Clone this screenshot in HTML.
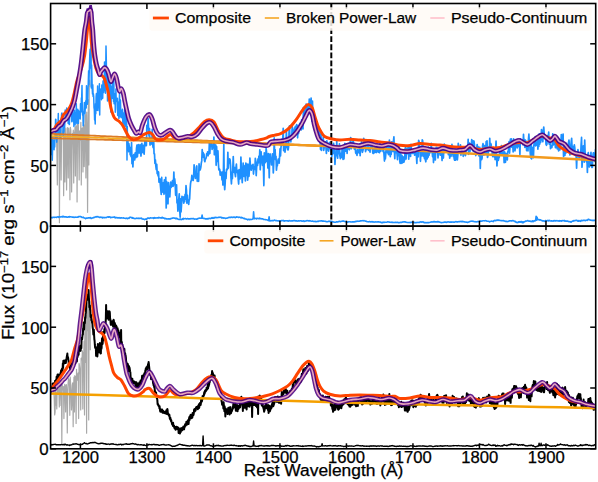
<!DOCTYPE html><html><head><meta charset="utf-8"><style>html,body{margin:0;padding:0;background:#fff;}svg{display:block;}</style></head><body><svg width="598" height="482" viewBox="0 0 598 482">
<rect width="598" height="482" fill="#fff"/>
<defs><clipPath id="c1"><rect x="50.6" y="3.5" width="545.1" height="222.7"/></clipPath>
<clipPath id="c2"><rect x="50.6" y="226.2" width="545.1" height="222.6"/></clipPath></defs>
<g clip-path="url(#c1)" fill="none" stroke-linejoin="round" stroke-linecap="butt">
<path d="M56.50,135.77 L56.92,151.73 L57.34,185.00 L57.76,130.40 L58.18,135.08 L58.60,130.60 L59.02,129.29 L59.44,222.70 L59.86,135.98 L60.28,147.71 L60.70,134.21 L61.12,180.00 L61.54,134.87 L61.96,129.90 L62.38,133.11 L62.80,133.80 L63.22,131.59 L63.64,195.70 L64.06,128.98 L64.48,128.42 L64.90,182.00 L65.32,151.13 L65.74,128.21 L66.16,148.09 L66.58,190.00 L67.00,150.54 L67.42,127.66 L67.84,147.55 L68.26,178.00 L68.68,128.03 L69.10,132.82 L69.52,139.06 L69.94,199.80 L70.36,127.42 L70.78,130.19 L71.20,142.56 L71.62,192.00 L72.04,150.35 L72.46,133.58 L72.88,136.19 L73.30,130.21 L73.72,183.00 L74.14,132.33 L74.56,142.51 L74.98,127.38 L75.40,176.00 L75.82,125.74 L76.24,139.57 L76.66,125.90 L77.08,202.00 L77.50,123.82 L77.92,126.62 L78.34,124.23 L78.76,150.12 L79.18,180.00 L79.60,130.96 L80.02,132.46 L80.44,140.07 L80.86,122.40 L81.28,185.00 L81.70,128.36 L82.12,128.89 L82.54,127.89 L82.96,172.00 L83.38,125.74 L83.80,124.77 L84.22,166.60 L84.64,143.85 L85.06,121.21 L85.48,114.62 L85.90,178.00 L86.32,131.58 L86.74,112.00 L87.16,140.15 L87.58,212.30 L88.00,133.59 L88.42,99.77 L88.84,165.00 L89.26,84.31 L89.68,80.13 L90.10,86.88" stroke="#a9a9a9" stroke-width="1.2"/>
<path d="M49.60,139.22 L49.90,143.99 L50.20,155.57 L50.50,146.61 L50.80,154.07 L51.10,154.37 L51.40,132.78 L51.70,152.61 L52.00,137.65 L52.30,160.20 L52.60,148.03 L52.90,136.96 L53.20,143.10 L53.50,142.82 L53.80,142.84 L54.10,149.81 L54.40,140.40 L54.70,146.98 L55.00,137.02 L55.30,129.63 L55.60,119.21 L55.90,119.53 L56.20,133.39 L56.50,137.15 L56.80,142.13 L57.10,126.22 L57.40,129.78 L57.70,122.52 L58.00,124.76 L58.30,113.47 L58.60,134.08 L58.90,126.71 L59.20,131.91 L59.50,135.35 L59.80,134.33 L60.10,124.24 L60.40,137.78 L60.70,131.68 L61.00,128.31 L61.30,120.29 L61.60,113.87 L61.90,112.98 L62.20,121.16 L62.50,124.40 L62.80,121.13 L63.10,136.05 L63.40,128.58 L63.70,132.39 L64.00,131.07 L64.30,118.68 L64.60,127.44 L64.90,121.82 L65.20,110.00 L65.50,118.83 L65.80,119.66 L66.10,119.07 L66.40,120.23 L66.70,107.96 L67.00,115.49 L67.30,114.68 L67.60,118.29 L67.90,118.37 L68.20,123.57 L68.50,120.91 L68.80,111.49 L69.10,120.86 L69.40,124.58 L69.70,116.58 L70.00,105.74 L70.30,110.50 L70.60,113.41 L70.90,105.57 L71.20,115.04 L71.50,109.09 L71.80,121.81 L72.10,121.47 L72.40,117.09 L72.70,110.19 L73.00,119.80 L73.30,114.73 L73.60,115.06 L73.90,126.55 L74.20,115.02 L74.50,110.16 L74.80,121.48 L75.10,124.68 L75.40,120.36 L75.70,112.38 L76.00,119.10 L76.30,103.68 L76.60,121.49 L76.90,123.69 L77.20,110.70 L77.50,118.42 L77.80,109.20 L78.10,112.20 L78.40,123.37 L78.70,110.74 L79.00,118.54 L79.30,117.68 L79.60,112.20 L79.90,114.84 L80.20,118.89 L80.50,103.75 L80.80,108.46 L81.10,111.86 L81.40,97.90 L81.70,97.54 L82.00,85.59 L82.30,109.06 L82.60,115.30 L82.90,111.64 L83.20,125.72 L83.50,121.87 L83.80,116.46 L84.10,109.53 L84.40,102.45 L84.70,110.37 L85.00,113.40 L85.30,107.26 L85.60,103.43 L85.90,100.62 L86.20,107.90 L86.50,85.68 L86.80,97.32 L87.10,100.37 L87.40,104.13 L87.70,102.00 L88.00,90.27 L88.30,82.07 L88.60,70.70 L88.90,84.73 L89.20,73.27 L89.50,64.56 L89.80,54.10 L90.10,49.31 L90.40,68.11 L90.70,62.06 L91.00,40.00 L91.30,88.06 L91.60,65.00 L91.90,75.36 L92.20,88.22 L92.50,94.01 L92.80,84.77 L93.10,96.46 L93.40,93.72 L93.70,96.51 L94.00,107.71 L94.30,109.27 L94.60,119.90 L94.90,116.33 L95.20,123.99 L95.50,103.80 L95.80,113.66 L96.10,97.15 L96.40,93.56 L96.70,94.15 L97.00,110.35 L97.30,103.80 L97.60,85.97 L97.90,110.59 L98.20,106.88 L98.50,96.04 L98.80,94.61 L99.10,95.57 L99.40,83.71 L99.70,114.94 L100.00,89.37 L100.30,92.25 L100.60,91.99 L100.90,89.97 L101.20,88.57 L101.50,99.71 L101.80,85.00 L102.10,85.31 L102.40,85.65 L102.70,98.25 L103.00,81.22 L103.30,80.75 L103.60,92.52 L103.90,80.36 L104.20,87.29 L104.50,62.00 L104.80,90.46 L105.10,84.04 L105.40,93.30 L105.70,73.21 L106.00,46.00 L106.30,59.88 L106.60,76.93 L106.90,84.61 L107.20,76.52 L107.50,100.94 L107.80,95.93 L108.10,96.90 L108.40,80.51 L108.70,93.78 L109.00,94.67 L109.30,74.87 L109.60,92.23 L109.90,91.36 L110.20,79.96 L110.50,99.06 L110.80,112.09 L111.10,100.92 L111.40,86.56 L111.70,89.54 L112.00,98.61 L112.30,80.83 L112.60,89.20 L112.90,86.37 L113.20,88.07 L113.50,101.38 L113.80,78.71 L114.10,103.79 L114.40,100.85 L114.70,102.34 L115.00,93.82 L115.30,112.20 L115.60,108.28 L115.90,89.04 L116.20,100.75 L116.50,100.78 L116.80,100.39 L117.10,101.56 L117.40,98.33 L117.70,115.57 L118.00,111.27 L118.30,102.20 L118.60,112.96 L118.90,118.37 L119.20,106.30 L119.50,93.68 L119.80,107.65 L120.10,116.87 L120.40,100.07 L120.70,108.17 L121.00,115.58 L121.30,117.74 L121.60,115.77 L121.90,113.12 L122.20,110.70 L122.50,109.35 L122.80,122.31 L123.10,123.29 L123.40,114.40 L123.70,113.13 L124.00,125.77 L124.30,124.14 L124.60,112.42 L124.90,106.89 L125.20,119.06 L125.50,124.41 L125.80,126.41 L126.10,126.77 L126.40,113.83 L126.70,125.67 L127.00,160.00 L127.30,126.42 L127.60,150.26 L127.90,138.54" stroke="#1e90ff" stroke-width="1.5"/>
<path d="M127.50,138.27 L127.95,149.96 L128.40,151.62 L128.85,143.64 L129.30,146.85 L129.75,147.29 L130.20,154.78 L130.65,151.48 L131.10,156.77 L131.55,142.52 L132.00,163.75 L132.45,155.43 L132.90,167.00 L133.35,156.57 L133.80,154.58 L134.25,158.68 L134.70,159.88 L135.15,153.08 L135.60,152.84 L136.05,157.56 L136.50,148.45 L136.95,145.03 L137.40,156.79 L137.85,151.23 L138.30,144.48 L138.75,151.20 L139.20,152.96 L139.65,147.86 L140.10,144.71 L140.55,152.26 L141.00,156.05 L141.45,147.70 L141.90,143.44 L142.35,150.35 L142.80,152.55 L143.25,145.31 L143.70,150.86 L144.15,154.21 L144.60,144.67 L145.05,139.21 L145.50,145.70 L145.95,142.40 L146.40,145.54 L146.85,125.40 L147.30,127.88 L147.75,125.55 L148.20,118.77 L148.65,132.46 L149.10,136.23 L149.55,128.66 L150.00,145.10 L150.45,141.51 L150.90,139.93 L151.35,139.01 L151.80,144.13 L152.25,129.32 L152.70,144.95 L153.15,147.62 L153.60,136.30 L154.05,153.84 L154.50,153.79 L154.95,163.43 L155.40,159.94 L155.85,166.16 L156.30,169.58 L156.75,164.32 L157.20,173.73 L157.65,171.36 L158.10,176.02 L158.55,171.97 L159.00,182.23 L159.45,181.25 L159.90,178.80 L160.35,184.94 L160.80,189.99 L161.25,194.42 L161.70,177.46 L162.15,192.12 L162.60,190.91 L163.05,188.27 L163.50,182.58 L163.95,194.29 L164.40,179.81 L164.85,189.26 L165.30,193.01 L165.75,177.34 L166.20,208.00 L166.65,181.55 L167.10,191.87 L167.55,200.34 L168.00,203.85 L168.45,182.60 L168.90,188.16 L169.35,193.66 L169.80,196.85 L170.25,189.23 L170.70,182.04 L171.15,187.36 L171.60,185.26 L172.05,183.88 L172.50,180.57 L172.95,186.45 L173.40,185.58 L173.85,172.00 L174.30,184.07 L174.75,178.95 L175.20,184.43 L175.65,195.31 L176.10,189.39 L176.55,184.75 L177.00,202.95 L177.45,200.47 L177.90,211.11 L178.35,200.94 L178.80,198.86 L179.25,193.81 L179.70,209.79 L180.15,217.24 L180.60,198.73 L181.05,212.00 L181.50,205.25 L181.95,196.43 L182.40,198.66 L182.85,197.09 L183.30,199.03 L183.75,203.26 L184.20,196.65 L184.65,201.61 L185.10,194.31 L185.55,199.16 L186.00,185.71 L186.45,190.11 L186.90,203.15 L187.35,195.16 L187.80,201.56 L188.25,200.83 L188.70,204.42 L189.15,200.09 L189.60,199.23 L190.05,190.14 L190.50,183.94 L190.95,181.22 L191.40,180.48 L191.85,175.29 L192.30,177.72 L192.75,179.52 L193.20,180.46 L193.65,175.64 L194.10,164.79 L194.55,173.71 L195.00,174.27 L195.45,178.46 L195.90,174.79 L196.35,167.01 L196.80,165.92 L197.25,181.31 L197.70,173.67 L198.15,179.89 L198.60,181.28 L199.05,163.81 L199.50,170.46 L199.95,170.06 L200.40,169.21 L200.85,167.15 L201.30,163.00 L201.75,160.89 L202.20,149.63 L202.65,156.52 L203.10,152.62 L203.55,157.50 L204.00,153.99 L204.45,160.40 L204.90,161.67 L205.35,158.71 L205.80,158.83 L206.25,157.32 L206.70,153.68 L207.15,154.62 L207.60,151.76 L208.05,155.78 L208.50,152.22 L208.95,154.09 L209.40,141.58 L209.85,153.35 L210.30,142.79 L210.75,142.43 L211.20,145.49 L211.65,143.71 L212.10,149.48 L212.55,145.95 L213.00,145.00 L213.45,147.96 L213.90,137.00 L214.35,154.79 L214.80,147.74 L215.25,154.41 L215.70,144.90 L216.15,165.31 L216.60,146.64 L217.05,159.67 L217.50,161.38 L217.95,150.97 L218.40,163.44 L218.85,169.85 L219.30,168.92 L219.75,169.45 L220.20,175.19 L220.65,171.71 L221.10,174.28 L221.55,173.15 L222.00,179.92 L222.45,172.14 L222.90,185.04 L223.35,177.11 L223.80,144.00 L224.25,182.04 L224.70,189.66 L225.15,183.65 L225.60,172.46 L226.05,178.55 L226.50,169.23 L226.95,169.68 L227.40,169.56 L227.85,152.37 L228.30,168.21 L228.75,160.09 L229.20,162.93 L229.65,158.84 L230.10,159.91 L230.55,165.07 L231.00,177.89 L231.45,183.84 L231.90,172.07 L232.35,178.76 L232.80,168.56 L233.25,156.56 L233.70,170.12 L234.15,172.44 L234.60,167.48 L235.05,173.68 L235.50,176.72 L235.95,167.89 L236.40,164.12 L236.85,172.50 L237.30,172.16 L237.75,170.67 L238.20,179.27 L238.65,184.04 L239.10,169.51 L239.55,177.11 L240.00,178.85 L240.45,177.28 L240.90,157.00 L241.35,168.70 L241.80,175.18 L242.25,182.59 L242.70,173.31 L243.15,163.15 L243.60,171.44 L244.05,176.33 L244.50,171.05 L244.95,165.70 L245.40,180.93 L245.85,163.00 L246.30,175.46 L246.75,172.17 L247.20,164.12 L247.65,180.24 L248.10,174.36 L248.55,164.29 L249.00,176.31 L249.45,168.99 L249.90,158.08 L250.35,164.65 L250.80,169.24 L251.25,170.18 L251.70,166.08 L252.15,165.07 L252.60,168.29 L253.05,164.24 L253.50,174.03 L253.95,167.20 L254.40,168.02 L254.85,169.43 L255.30,158.45 L255.75,160.67 L256.20,175.58 L256.65,167.10 L257.10,162.19 L257.55,165.41 L258.00,158.80 L258.45,163.01 L258.90,156.00 L259.35,162.11 L259.80,149.73 L260.25,169.80 L260.70,158.11 L261.15,151.89 L261.60,161.93 L262.05,161.64 L262.50,165.28 L262.95,156.19 L263.40,165.43 L263.85,185.63 L264.30,152.77 L264.75,163.18 L265.20,158.97 L265.65,162.07 L266.10,148.46 L266.55,151.78 L267.00,161.18 L267.45,157.37 L267.90,168.06 L268.35,153.59 L268.80,159.89 L269.25,177.80 L269.70,154.80 L270.15,154.01 L270.60,159.51 L271.05,159.41 L271.50,164.83 L271.95,160.05 L272.40,153.96 L272.85,159.07 L273.30,172.96 L273.75,163.52 L274.20,137.95 L274.65,153.77 L275.10,149.62 L275.55,159.64 L276.00,156.27 L276.45,170.22 L276.90,165.30 L277.35,165.64 L277.80,161.29 L278.25,158.99 L278.70,159.63 L279.15,163.18 L279.60,156.39 L280.05,148.82 L280.50,156.01 L280.95,147.67 L281.40,144.54 L281.85,139.44 L282.30,140.35 L282.75,140.07 L283.20,128.25 L283.65,150.63 L284.10,148.75 L284.55,144.86 L285.00,152.18 L285.45,148.39 L285.90,147.30 L286.35,130.48 L286.80,141.85 L287.25,144.92 L287.70,149.68 L288.15,149.82 L288.60,146.59 L289.05,131.80 L289.50,125.80 L289.95,140.55 L290.40,137.41 L290.85,142.02 L291.30,135.51 L291.75,136.45 L292.20,126.31 L292.65,135.57 L293.10,129.79 L293.55,132.83 L294.00,132.17 L294.45,127.89 L294.90,128.96 L295.35,126.44 L295.80,130.18 L296.25,129.23 L296.70,124.69 L297.15,125.39 L297.60,137.82 L298.05,128.60 L298.50,133.69 L298.95,130.00 L299.40,124.61 L299.85,123.44 L300.30,127.68 L300.75,128.36 L301.20,129.93 L301.65,119.95 L302.10,121.93 L302.55,122.59 L303.00,128.90 L303.45,107.51 L303.90,119.37 L304.35,112.85 L304.80,116.06 L305.25,110.41 L305.70,113.70 L306.15,104.00 L306.60,112.64 L307.05,112.70 L307.50,112.07 L307.95,106.27 L308.40,112.11 L308.85,108.06 L309.30,99.00 L309.75,108.22 L310.20,108.78 L310.65,114.87 L311.10,98.00 L311.55,110.99 L312.00,121.22 L312.45,101.00 L312.90,121.43 L313.35,119.62 L313.80,118.09 L314.25,118.87 L314.70,121.98 L315.15,130.22 L315.60,128.59 L316.05,123.15 L316.50,131.16 L316.95,125.76 L317.40,134.08 L317.85,128.39 L318.30,128.73 L318.75,135.83 L319.20,135.70 L319.65,129.35 L320.10,141.63 L320.55,149.52 L321.00,134.02 L321.45,150.51 L321.90,139.71 L322.35,140.98 L322.80,142.62 L323.25,137.11 L323.70,150.43 L324.15,147.84 L324.60,143.57 L325.05,146.67 L325.50,141.81 L325.95,147.62 L326.40,153.46 L326.85,140.83 L327.30,145.64 L327.75,147.09 L328.20,150.18 L328.65,151.05 L329.10,143.02 L329.55,142.38 L330.00,148.59 L330.45,145.73 L330.90,146.58 L331.35,153.31 L331.80,156.50 L332.25,150.65 L332.70,149.30 L333.15,153.55 L333.60,143.32 L334.05,152.52 L334.50,148.51 L334.95,164.43 L335.40,157.06 L335.85,154.34 L336.30,152.40 L336.75,141.26 L337.20,154.93 L337.65,158.24 L338.10,147.04 L338.55,153.18 L339.00,153.57 L339.45,143.94 L339.90,155.94 L340.35,158.56 L340.80,154.10 L341.25,153.24 L341.70,157.39 L342.15,147.20 L342.60,154.87 L343.05,159.47 L343.50,149.22 L343.95,158.99 L344.40,151.91 L344.85,143.36 L345.30,151.07 L345.75,146.13 L346.20,151.16 L346.65,143.90 L347.10,153.41 L347.55,144.78 L348.00,148.93 L348.45,143.72 L348.90,143.93 L349.35,149.80 L349.80,144.64 L350.25,141.50 L350.70,137.64 L351.15,148.78 L351.60,147.37 L352.05,143.22 L352.50,146.41 L352.95,141.24 L353.40,141.81 L353.85,143.17 L354.30,149.05 L354.75,149.43 L355.20,145.42 L355.65,152.75 L356.10,153.55 L356.55,151.28 L357.00,155.48 L357.45,149.59 L357.90,150.21 L358.35,152.50 L358.80,149.81 L359.25,153.18 L359.70,143.76 L360.15,155.66 L360.60,145.46 L361.05,147.86 L361.50,141.85 L361.95,150.03 L362.40,152.27 L362.85,150.66 L363.30,149.13 L363.75,138.23 L364.20,141.89 L364.65,143.73 L365.10,142.08 L365.55,151.76 L366.00,147.86 L366.45,147.18 L366.90,149.75 L367.35,143.56 L367.80,144.00 L368.25,144.31 L368.70,150.51 L369.15,149.54 L369.60,150.20 L370.05,152.12 L370.50,141.03 L370.95,144.74 L371.40,148.24 L371.85,141.86 L372.30,145.83 L372.75,152.97 L373.20,153.45 L373.65,153.34 L374.10,148.57 L374.55,147.11 L375.00,152.43 L375.45,145.32 L375.90,148.12 L376.35,152.53 L376.80,145.35 L377.25,145.03 L377.70,148.59 L378.15,152.04 L378.60,152.00 L379.05,150.79 L379.50,152.71 L379.95,143.04 L380.40,146.39 L380.85,151.09 L381.30,146.42 L381.75,144.99 L382.20,146.11 L382.65,147.90 L383.10,151.72 L383.55,148.35 L384.00,154.32 L384.45,161.06 L384.90,152.71 L385.35,158.85 L385.80,153.93 L386.25,146.92 L386.70,149.97 L387.15,145.81 L387.60,152.85 L388.05,143.60 L388.50,154.62 L388.95,151.43 L389.40,140.05 L389.85,153.03 L390.30,156.77 L390.75,146.36 L391.20,154.37 L391.65,141.76 L392.10,150.84 L392.55,142.10 L393.00,151.54 L393.45,141.04 L393.90,136.90 L394.35,150.28 L394.80,158.68 L395.25,145.82 L395.70,152.63 L396.15,150.08 L396.60,149.02 L397.05,154.16 L397.50,159.56 L397.95,147.14 L398.40,155.57 L398.85,154.76 L399.30,147.02 L399.75,161.16 L400.20,163.27 L400.65,150.80 L401.10,163.50 L401.55,156.34 L402.00,155.51 L402.45,162.91 L402.90,156.92 L403.35,157.08 L403.80,162.24 L404.25,161.05 L404.70,159.10 L405.15,148.50 L405.60,147.34 L406.05,159.05 L406.50,149.44 L406.95,154.00 L407.40,148.28 L407.85,152.03 L408.30,146.68 L408.75,159.27 L409.20,146.93 L409.65,150.70 L410.10,150.24 L410.55,156.40 L411.00,144.46 L411.45,150.63 L411.90,149.87 L412.35,153.35 L412.80,153.34 L413.25,149.47 L413.70,153.07 L414.15,150.85 L414.60,155.27 L415.05,153.31 L415.50,151.25 L415.95,154.17 L416.40,155.58 L416.85,163.39 L417.30,149.97 L417.75,152.49 L418.20,156.81 L418.65,140.34 L419.10,141.72 L419.55,144.40 L420.00,149.55 L420.45,161.33 L420.90,152.29 L421.35,156.06 L421.80,149.70 L422.25,139.81 L422.70,140.85 L423.15,156.34 L423.60,153.18 L424.05,147.12 L424.50,158.64 L424.95,147.27 L425.40,159.86 L425.85,161.78 L426.30,152.14 L426.75,150.61 L427.20,159.00 L427.65,149.50 L428.10,157.33 L428.55,147.10 L429.00,155.35 L429.45,151.70 L429.90,149.22 L430.35,147.24 L430.80,152.58 L431.25,143.36 L431.70,151.12 L432.15,151.22 L432.60,156.80 L433.05,148.79 L433.50,162.53 L433.95,153.34 L434.40,149.06 L434.85,159.57 L435.30,159.92 L435.75,150.90 L436.20,147.27 L436.65,151.09 L437.10,147.81 L437.55,149.50 L438.00,157.96 L438.45,152.73 L438.90,151.72 L439.35,152.77 L439.80,151.06 L440.25,155.11 L440.70,155.10 L441.15,149.12 L441.60,150.74 L442.05,160.56 L442.50,151.19 L442.95,148.15 L443.40,158.05 L443.85,148.83 L444.30,144.02 L444.75,152.31 L445.20,145.59 L445.65,147.76 L446.10,151.72 L446.55,149.78 L447.00,146.85 L447.45,147.61 L447.90,147.12 L448.35,154.69 L448.80,145.86 L449.25,146.33 L449.70,158.15 L450.15,146.83 L450.60,156.49 L451.05,156.19 L451.50,149.93 L451.95,144.46 L452.40,153.13 L452.85,154.54 L453.30,156.50 L453.75,153.21 L454.20,158.97 L454.65,160.22 L455.10,149.27 L455.55,160.15 L456.00,153.95 L456.45,149.91 L456.90,150.40 L457.35,159.91 L457.80,155.78 L458.25,143.38 L458.70,151.96 L459.15,151.06 L459.60,150.90 L460.05,149.29 L460.50,144.93 L460.95,155.31 L461.40,147.28 L461.85,150.10 L462.30,149.46 L462.75,149.34 L463.20,156.28 L463.65,154.79 L464.10,149.91 L464.55,148.29 L465.00,149.89 L465.45,155.72 L465.90,151.26 L466.35,150.99 L466.80,147.80 L467.25,147.58 L467.70,149.23 L468.15,139.42 L468.60,154.34 L469.05,142.89 L469.50,143.34 L469.95,151.61 L470.40,147.12 L470.85,146.85 L471.30,144.23 L471.75,139.52 L472.20,146.75 L472.65,150.61 L473.10,140.75 L473.55,151.41 L474.00,141.20 L474.45,144.56 L474.90,151.96 L475.35,151.21 L475.80,155.55 L476.25,149.62 L476.70,148.46 L477.15,144.53 L477.60,147.46 L478.05,148.16 L478.50,147.04 L478.95,155.99 L479.40,152.57 L479.85,147.34 L480.30,168.36 L480.75,152.40 L481.20,149.37 L481.65,159.65 L482.10,157.92 L482.55,145.91 L483.00,143.60 L483.45,145.35 L483.90,155.11 L484.35,148.14 L484.80,145.57 L485.25,148.94 L485.70,154.39 L486.15,141.64 L486.60,145.96 L487.05,140.79 L487.50,157.44 L487.95,155.67 L488.40,151.66 L488.85,146.77 L489.30,150.99 L489.75,138.25 L490.20,150.34 L490.65,143.45 L491.10,144.37 L491.55,148.18 L492.00,150.60 L492.45,155.62 L492.90,156.59 L493.35,154.69 L493.80,148.96 L494.25,156.90 L494.70,153.13 L495.15,159.70 L495.60,149.80 L496.05,141.17 L496.50,152.70 L496.95,165.97 L497.40,158.08 L497.85,155.03 L498.30,160.29 L498.75,158.09 L499.20,157.31 L499.65,151.76 L500.10,153.84 L500.55,153.56 L501.00,148.56 L501.45,145.50 L501.90,151.17 L502.35,154.81 L502.80,152.85 L503.25,151.87 L503.70,151.98 L504.15,162.73 L504.60,151.96 L505.05,156.83 L505.50,162.29 L505.95,153.35 L506.40,154.37 L506.85,157.66 L507.30,159.85 L507.75,151.78 L508.20,150.87 L508.65,148.63 L509.10,141.66 L509.55,153.09 L510.00,146.26 L510.45,138.98 L510.90,146.84 L511.35,138.84 L511.80,142.33 L512.25,147.31 L512.70,142.39 L513.15,152.02 L513.60,138.73 L514.05,146.65 L514.50,147.28 L514.95,150.95 L515.40,147.51 L515.85,143.47 L516.30,142.40 L516.75,141.68 L517.20,148.01 L517.65,139.67 L518.10,146.56 L518.55,144.38 L519.00,146.51 L519.45,143.61 L519.90,154.51 L520.35,138.93 L520.80,141.94 L521.25,140.71 L521.70,141.55 L522.15,140.55 L522.60,140.95 L523.05,145.03 L523.50,134.28 L523.95,143.94 L524.40,139.26 L524.85,147.47 L525.30,140.17 L525.75,140.56 L526.20,144.15 L526.65,150.71 L527.10,146.18 L527.55,144.82 L528.00,150.88 L528.45,139.38 L528.90,134.22 L529.35,143.49 L529.80,144.96 L530.25,153.15 L530.70,157.89 L531.15,139.99 L531.60,158.92 L532.05,153.78 L532.50,149.76 L532.95,147.24 L533.40,157.71 L533.85,145.60 L534.30,142.44 L534.75,145.09 L535.20,136.90 L535.65,145.98 L536.10,142.84 L536.55,145.03 L537.00,145.06 L537.45,137.49 L537.90,149.21 L538.35,136.88 L538.80,146.46 L539.25,133.84 L539.70,144.17 L540.15,138.21 L540.60,142.46 L541.05,138.29 L541.50,129.50 L541.95,133.91 L542.40,139.35 L542.85,141.72 L543.30,130.59 L543.75,127.04 L544.20,133.57 L544.65,137.29 L545.10,135.59 L545.55,135.20 L546.00,144.26 L546.45,145.25 L546.90,144.31 L547.35,135.58 L547.80,140.51 L548.25,138.70 L548.70,132.03 L549.15,144.09 L549.60,140.55 L550.05,138.41 L550.50,148.61 L550.95,145.43 L551.40,145.91 L551.85,147.52 L552.30,144.65 L552.75,133.91 L553.20,138.03 L553.65,144.82 L554.10,135.28 L554.55,139.58 L555.00,141.72 L555.45,147.67 L555.90,147.68 L556.35,146.84 L556.80,142.35 L557.25,148.83 L557.70,147.07 L558.15,143.32 L558.60,150.88 L559.05,146.07 L559.50,139.37 L559.95,149.88 L560.40,141.72 L560.85,145.93 L561.30,134.64 L561.75,142.40 L562.20,137.66 L562.65,138.00 L563.10,134.02 L563.55,156.57 L564.00,146.01 L564.45,149.60 L564.90,155.34 L565.35,149.59 L565.80,153.17 L566.25,143.25 L566.70,151.17 L567.15,147.66 L567.60,152.26 L568.05,150.50 L568.50,142.30 L568.95,140.09 L569.40,144.95 L569.85,154.84 L570.30,153.89 L570.75,154.40 L571.20,141.97 L571.65,138.28 L572.10,148.49 L572.55,148.98 L573.00,146.59 L573.45,151.28 L573.90,148.97 L574.35,144.78 L574.80,147.99 L575.25,154.98 L575.70,155.81 L576.15,155.69 L576.60,168.20 L577.05,154.48 L577.50,156.01 L577.95,149.60 L578.40,152.66 L578.85,157.27 L579.30,157.60 L579.75,153.92 L580.20,157.00 L580.65,155.24 L581.10,144.90 L581.55,137.44 L582.00,167.22 L582.45,159.48 L582.90,154.88 L583.35,145.94 L583.80,148.30 L584.25,162.19 L584.70,140.04 L585.15,153.46 L585.60,160.47 L586.05,157.58 L586.50,161.98 L586.95,158.28 L587.40,172.51 L587.85,154.50 L588.30,152.63 L588.75,161.14 L589.20,167.04 L589.65,158.83 L590.10,164.57 L590.55,155.97 L591.00,152.42 L591.45,166.36 L591.90,167.39 L592.35,167.35 L592.80,156.86 L593.25,153.01 L593.70,152.80 L594.15,157.55 L594.60,161.41 L595.05,160.46 L595.50,149.57 L595.95,158.23 L596.40,157.50" stroke="#1e90ff" stroke-width="1.7"/>
<path d="M49.60,217.78 L50.10,216.82 L50.60,217.63 L51.10,217.44 L51.60,217.67 L52.10,217.45 L52.60,217.70 L53.10,217.31 L53.60,217.18 L54.10,217.38 L54.60,217.35 L55.10,217.18 L55.60,217.19 L56.10,217.37 L56.60,217.33 L57.10,217.05 L57.60,217.02 L58.10,216.67 L58.60,217.30 L59.10,216.84 L59.60,217.07 L60.10,216.81 L60.60,217.04 L61.10,216.90 L61.60,216.61 L62.10,216.83 L62.60,216.34 L63.10,216.81 L63.60,216.31 L64.10,216.74 L64.60,216.96 L65.10,216.88 L65.60,216.85 L66.10,216.84 L66.60,217.00 L67.10,217.32 L67.60,217.29 L68.10,217.03 L68.60,216.78 L69.10,217.09 L69.60,216.59 L70.10,216.73 L70.60,216.68 L71.10,217.01 L71.60,216.96 L72.10,217.08 L72.60,217.11 L73.10,216.98 L73.60,217.26 L74.10,217.45 L74.60,217.17 L75.10,217.29 L75.60,217.12 L76.10,217.32 L76.60,217.19 L77.10,217.15 L77.60,216.95 L78.10,217.10 L78.60,216.59 L79.10,216.52 L79.60,216.44 L80.10,216.70 L80.60,216.54 L81.10,216.68 L81.60,217.14 L82.10,217.45 L82.60,217.57 L83.10,217.15 L83.60,217.70 L84.10,217.85 L84.60,217.94 L85.10,218.17 L85.60,218.63 L86.10,218.18 L86.60,218.03 L87.10,218.23 L87.60,218.02 L88.10,217.96 L88.60,217.75 L89.10,217.89 L89.60,218.02 L90.10,217.64 L90.60,217.79 L91.10,218.41 L91.60,218.40 L92.10,218.10 L92.60,217.89 L93.10,217.87 L93.60,217.43 L94.10,217.34 L94.60,217.48 L95.10,216.96 L95.60,217.01 L96.10,216.64 L96.60,216.73 L97.10,216.96 L97.60,216.49 L98.10,216.79 L98.60,216.94 L99.10,217.14 L99.60,217.50 L100.10,217.41 L100.60,217.05 L101.10,217.35 L101.60,217.27 L102.10,217.30 L102.60,217.92 L103.10,217.33 L103.60,217.61 L104.10,217.44 L104.60,217.76 L105.10,217.63 L105.60,217.54 L106.10,217.43 L106.60,217.57 L107.10,217.05 L107.60,217.00 L108.10,216.84 L108.60,217.29 L109.10,216.97 L109.60,216.86 L110.10,217.04 L110.60,217.69 L111.10,217.23 L111.60,217.46 L112.10,217.40 L112.60,217.30 L113.10,217.16 L113.60,217.23 L114.10,217.24 L114.60,216.91 L115.10,217.92 L115.60,217.66 L116.10,217.58 L116.60,217.59 L117.10,217.55 L117.60,217.95 L118.10,217.77 L118.60,217.94 L119.10,217.57 L119.60,217.92 L120.10,218.21 L120.60,217.73 L121.10,217.92 L121.60,217.76 L122.10,217.99 L122.60,218.03 L123.10,217.92 L123.60,217.90 L124.10,218.19 L124.60,218.25 L125.10,218.20 L125.60,218.46 L126.10,218.46 L126.60,218.16 L127.10,218.24 L127.60,218.75 L128.10,218.21 L128.60,217.94 L129.10,218.31 L129.60,217.63 L130.10,217.17 L130.60,217.28 L131.10,217.40 L131.60,217.84 L132.10,218.11 L132.60,217.62 L133.10,218.42 L133.60,218.08 L134.10,218.48 L134.60,218.58 L135.10,218.60 L135.60,218.50 L136.10,218.48 L136.60,218.14 L137.10,218.32 L137.60,218.36 L138.10,218.27 L138.60,218.55 L139.10,218.24 L139.60,218.22 L140.10,218.50 L140.60,218.35 L141.10,218.20 L141.60,218.17 L142.10,219.03 L142.60,219.04 L143.10,219.22 L143.60,219.10 L144.10,219.31 L144.60,219.65 L145.10,219.33 L145.60,218.98 L146.10,219.01 L146.60,219.23 L147.10,218.58 L147.60,218.12 L148.10,218.02 L148.60,218.09 L149.10,218.42 L149.60,218.21 L150.10,218.00 L150.60,217.85 L151.10,218.06 L151.60,218.03 L152.10,217.94 L152.60,217.99 L153.10,217.89 L153.60,218.40 L154.10,217.56 L154.60,218.06 L155.10,217.81 L155.60,218.13 L156.10,217.91 L156.60,218.00 L157.10,217.99 L157.60,217.87 L158.10,217.98 L158.60,217.46 L159.10,217.89 L159.60,217.62 L160.10,217.71 L160.60,217.93 L161.10,217.85 L161.60,218.06 L162.10,217.28 L162.60,217.63 L163.10,218.14 L163.60,217.85 L164.10,218.18 L164.60,218.68 L165.10,218.63 L165.60,218.37 L166.10,218.75 L166.60,218.89 L167.10,218.87 L167.60,218.94 L168.10,219.07 L168.60,218.80 L169.10,219.14 L169.60,218.87 L170.10,219.04 L170.60,218.88 L171.10,218.42 L171.60,218.51 L172.10,218.27 L172.60,218.05 L173.10,218.13 L173.60,217.92 L174.10,217.98 L174.60,218.15 L175.10,218.26 L175.60,218.64 L176.10,218.09 L176.60,218.65 L177.10,218.45 L177.60,218.89 L178.10,219.19 L178.60,219.26 L179.10,219.56 L179.60,219.50 L180.10,218.91 L180.60,219.20 L181.10,219.66 L181.60,219.55 L182.10,219.14 L182.60,218.69 L183.10,219.33 L183.60,218.40 L184.10,218.82 L184.60,218.72 L185.10,218.77 L185.60,218.48 L186.10,218.65 L186.60,218.98 L187.10,218.69 L187.60,218.55 L188.10,218.85 L188.60,218.89 L189.10,218.85 L189.60,218.70 L190.10,218.95 L190.60,218.78 L191.10,218.53 L191.60,218.78 L192.10,218.71 L192.60,218.75 L193.10,218.41 L193.60,218.65 L194.10,218.96 L194.60,219.11 L195.10,219.04 L195.60,219.01 L196.10,219.09 L196.60,219.08 L197.10,219.14 L197.60,218.76 L198.10,218.43 L198.60,218.54 L199.10,217.96 L199.60,218.30 L200.10,218.16 L200.60,218.22 L201.10,218.31 L201.60,218.23 L202.10,215.00 L202.60,218.21 L203.10,218.17 L203.60,218.40 L204.10,218.56 L204.60,218.39 L205.10,218.83 L205.60,219.04 L206.10,218.81 L206.60,219.06 L207.10,218.63 L207.60,218.80 L208.10,219.04 L208.60,218.41 L209.10,218.55 L209.60,218.35 L210.10,218.64 L210.60,218.53 L211.10,218.09 L211.60,218.16 L212.10,217.55 L212.60,218.19 L213.10,218.04 L213.60,218.18 L214.10,217.39 L214.60,217.89 L215.10,217.70 L215.60,217.21 L216.10,217.55 L216.60,217.63 L217.10,217.76 L217.60,217.59 L218.10,217.39 L218.60,217.53 L219.10,217.37 L219.60,217.23 L220.10,217.14 L220.60,217.38 L221.10,217.42 L221.60,217.82 L222.10,217.46 L222.60,217.99 L223.10,217.88 L223.60,218.19 L224.10,217.91 L224.60,218.03 L225.10,218.21 L225.60,218.47 L226.10,218.29 L226.60,218.31 L227.10,218.08 L227.60,218.06 L228.10,217.72 L228.60,217.42 L229.10,217.50 L229.60,217.31 L230.10,217.59 L230.60,217.18 L231.10,217.23 L231.60,217.15 L232.10,217.46 L232.60,217.42 L233.10,217.39 L233.60,217.03 L234.10,216.99 L234.60,217.36 L235.10,217.46 L235.60,217.62 L236.10,216.95 L236.60,217.27 L237.10,216.95 L237.60,217.08 L238.10,217.23 L238.60,217.47 L239.10,217.18 L239.60,217.17 L240.10,217.28 L240.60,217.68 L241.10,217.99 L241.60,217.30 L242.10,217.67 L242.60,217.77 L243.10,218.25 L243.60,218.29 L244.10,218.71 L244.60,218.43 L245.10,218.85 L245.60,218.96 L246.10,219.00 L246.60,219.31 L247.10,219.19 L247.60,219.88 L248.10,219.56 L248.60,219.28 L249.10,219.35 L249.60,219.79 L250.10,219.35 L250.60,219.54 L251.10,219.46 L251.60,219.49 L252.10,219.30 L252.60,219.04 L253.10,218.84 L253.60,211.80 L254.10,218.71 L254.60,218.65 L255.10,218.49 L255.60,218.49 L256.10,218.29 L256.60,218.92 L257.10,218.47 L257.60,218.40 L258.10,218.51 L258.60,218.60 L259.10,218.76 L259.60,218.17 L260.10,218.70 L260.60,218.51 L261.10,218.62 L261.60,218.90 L262.10,218.94 L262.60,218.79 L263.10,219.01 L263.60,219.48 L264.10,219.50 L264.60,219.53 L265.10,219.50 L265.60,219.78 L266.10,219.81 L266.60,219.78 L267.10,219.84 L267.60,220.25 L268.10,220.36 L268.60,220.64 L269.10,216.80 L269.60,220.87 L270.10,220.63 L270.60,220.95 L271.10,220.84 L271.60,220.64 L272.10,220.54 L272.60,220.62 L273.10,220.52 L273.60,220.64 L274.10,220.30 L274.60,220.12 L275.10,220.35 L275.60,220.69 L276.10,220.72 L276.60,220.45 L277.10,220.63 L277.60,220.85 L278.10,220.79 L278.60,220.92 L279.10,220.95 L279.60,220.83 L280.10,220.86 L280.60,220.82 L281.10,220.86 L281.60,220.56 L282.10,220.71 L282.60,220.49 L283.10,220.48 L283.60,220.42 L284.10,221.23 L284.60,220.82 L285.10,220.87 L285.60,220.82 L286.10,220.70 L286.60,220.78 L287.10,220.84 L287.60,220.89 L288.10,220.95 L288.60,221.12 L289.10,220.48 L289.60,220.87 L290.10,221.07 L290.60,220.90 L291.10,220.89 L291.60,221.07 L292.10,220.80 L292.60,220.97 L293.10,220.66 L293.60,220.68 L294.10,220.52 L294.60,220.44 L295.10,220.74 L295.60,220.89 L296.10,220.90 L296.60,220.80 L297.10,221.10 L297.60,221.00 L298.10,220.95 L298.60,220.78 L299.10,221.06 L299.60,220.99 L300.10,220.80 L300.60,220.74 L301.10,220.82 L301.60,221.08 L302.10,221.31 L302.60,221.00 L303.10,221.01 L303.60,220.86 L304.10,221.52 L304.60,220.94 L305.10,221.16 L305.60,221.03 L306.10,221.06 L306.60,220.68 L307.10,220.52 L307.60,220.76 L308.10,220.82 L308.60,220.98 L309.10,220.65 L309.60,220.90 L310.10,220.99 L310.60,220.89 L311.10,221.09 L311.60,221.26 L312.10,221.18 L312.60,221.02 L313.10,221.32 L313.60,221.45 L314.10,221.47 L314.60,221.56 L315.10,221.28 L315.60,221.62 L316.10,221.66 L316.60,221.51 L317.10,221.52 L317.60,221.35 L318.10,221.54 L318.60,221.22 L319.10,221.01 L319.60,221.06 L320.10,220.96 L320.60,220.97 L321.10,220.72 L321.60,220.75 L322.10,220.94 L322.60,221.27 L323.10,221.12 L323.60,220.97 L324.10,221.30 L324.60,221.27 L325.10,221.20 L325.60,221.42 L326.10,221.46 L326.60,221.61 L327.10,221.72 L327.60,221.66 L328.10,221.57 L328.60,221.36 L329.10,221.40 L329.60,221.33 L330.10,221.52 L330.60,221.23 L331.10,221.29 L331.60,221.65 L332.10,221.64 L332.60,221.64 L333.10,221.87 L333.60,222.02 L334.10,222.14 L334.60,222.31 L335.10,222.28 L335.60,222.19 L336.10,222.08 L336.60,221.83 L337.10,221.91 L337.60,222.03 L338.10,221.80 L338.60,221.58 L339.10,221.55 L339.60,221.38 L340.10,221.46 L340.60,221.61 L341.10,221.50 L341.60,221.34 L342.10,221.23 L342.60,221.06 L343.10,220.92 L343.60,221.15 L344.10,221.18 L344.60,221.50 L345.10,221.56 L345.60,221.62 L346.10,221.89 L346.60,222.33 L347.10,221.83 L347.60,222.11 L348.10,221.99 L348.60,221.84 L349.10,221.70 L349.60,221.79 L350.10,221.82 L350.60,221.92 L351.10,221.95 L351.60,221.93 L352.10,221.82 L352.60,221.96 L353.10,221.85 L353.60,221.74 L354.10,221.97 L354.60,221.69 L355.10,221.54 L355.60,221.64 L356.10,221.26 L356.60,221.41 L357.10,221.37 L357.60,221.15 L358.10,221.15 L358.60,221.35 L359.10,221.20 L359.60,221.10 L360.10,221.03 L360.60,220.85 L361.10,220.86 L361.60,220.78 L362.10,220.77 L362.60,220.73 L363.10,220.56 L363.60,220.91 L364.10,220.58 L364.60,220.86 L365.10,221.08 L365.60,221.08 L366.10,221.15 L366.60,221.41 L367.10,221.81 L367.60,221.73 L368.10,221.69 L368.60,221.86 L369.10,221.77 L369.60,221.53 L370.10,221.82 L370.60,221.92 L371.10,221.94 L371.60,221.79 L372.10,221.63 L372.60,222.03 L373.10,221.88 L373.60,222.04 L374.10,222.13 L374.60,222.03 L375.10,221.99 L375.60,221.91 L376.10,221.93 L376.60,221.99 L377.10,221.91 L377.60,222.02 L378.10,221.71 L378.60,221.87 L379.10,222.06 L379.60,222.04 L380.10,222.16 L380.60,222.17 L381.10,222.51 L381.60,222.71 L382.10,222.38 L382.60,222.69 L383.10,222.30 L383.60,222.47 L384.10,222.10 L384.60,222.38 L385.10,222.24 L385.60,222.19 L386.10,222.28 L386.60,222.15 L387.10,222.03 L387.60,221.89 L388.10,222.01 L388.60,221.91 L389.10,221.98 L389.60,222.29 L390.10,222.27 L390.60,222.26 L391.10,222.38 L391.60,222.16 L392.10,222.43 L392.60,222.22 L393.10,222.38 L393.60,222.52 L394.10,222.50 L394.60,222.51 L395.10,222.40 L395.60,222.36 L396.10,222.34 L396.60,222.54 L397.10,222.54 L397.60,222.19 L398.10,222.46 L398.60,222.67 L399.10,222.50 L399.60,222.59 L400.10,222.48 L400.60,222.38 L401.10,222.51 L401.60,222.35 L402.10,222.28 L402.60,221.98 L403.10,221.91 L403.60,221.96 L404.10,221.85 L404.60,221.98 L405.10,221.79 L405.60,222.11 L406.10,222.20 L406.60,222.25 L407.10,222.45 L407.60,222.45 L408.10,222.52 L408.60,222.58 L409.10,222.42 L409.60,222.58 L410.10,222.66 L410.60,222.27 L411.10,222.54 L411.60,222.31 L412.10,222.32 L412.60,222.38 L413.10,222.41 L413.60,222.59 L414.10,222.42 L414.60,222.73 L415.10,222.54 L415.60,222.64 L416.10,222.68 L416.60,222.49 L417.10,222.40 L417.60,222.52 L418.10,222.53 L418.60,222.46 L419.10,222.19 L419.60,222.39 L420.10,222.04 L420.60,221.89 L421.10,222.10 L421.60,222.10 L422.10,221.82 L422.60,222.12 L423.10,221.92 L423.60,222.22 L424.10,222.65 L424.60,222.64 L425.10,222.66 L425.60,222.73 L426.10,222.57 L426.60,222.74 L427.10,222.75 L427.60,222.51 L428.10,222.64 L428.60,222.64 L429.10,222.54 L429.60,222.51 L430.10,222.34 L430.60,222.12 L431.10,222.18 L431.60,221.81 L432.10,221.88 L432.60,222.04 L433.10,222.08 L433.60,221.85 L434.10,221.45 L434.60,221.98 L435.10,221.89 L435.60,221.80 L436.10,221.94 L436.60,221.91 L437.10,221.67 L437.60,221.66 L438.10,222.01 L438.60,221.59 L439.10,222.07 L439.60,222.12 L440.10,222.31 L440.60,222.51 L441.10,222.53 L441.60,222.61 L442.10,222.53 L442.60,222.48 L443.10,222.52 L443.60,222.32 L444.10,222.15 L444.60,222.22 L445.10,221.97 L445.60,222.09 L446.10,222.44 L446.60,222.21 L447.10,222.10 L447.60,222.03 L448.10,221.86 L448.60,222.04 L449.10,222.02 L449.60,222.14 L450.10,222.15 L450.60,222.13 L451.10,221.86 L451.60,222.31 L452.10,222.15 L452.60,222.08 L453.10,222.02 L453.60,222.12 L454.10,222.22 L454.60,222.12 L455.10,221.84 L455.60,221.79 L456.10,221.58 L456.60,221.87 L457.10,221.89 L457.60,221.91 L458.10,221.72 L458.60,221.79 L459.10,221.53 L459.60,221.72 L460.10,221.62 L460.60,221.54 L461.10,221.38 L461.60,221.76 L462.10,221.28 L462.60,221.69 L463.10,221.52 L463.60,221.78 L464.10,221.72 L464.60,222.02 L465.10,222.02 L465.60,222.03 L466.10,222.20 L466.60,222.10 L467.10,222.36 L467.60,222.40 L468.10,222.19 L468.60,221.99 L469.10,221.97 L469.60,221.45 L470.10,221.54 L470.60,221.34 L471.10,221.20 L471.60,221.31 L472.10,221.09 L472.60,221.28 L473.10,221.42 L473.60,221.29 L474.10,221.51 L474.60,221.70 L475.10,221.83 L475.60,221.62 L476.10,221.90 L476.60,221.74 L477.10,221.77 L477.60,221.63 L478.10,221.75 L478.60,221.46 L479.10,221.50 L479.60,221.41 L480.10,221.36 L480.60,220.99 L481.10,221.15 L481.60,220.97 L482.10,221.12 L482.60,220.81 L483.10,220.75 L483.60,220.82 L484.10,220.78 L484.60,220.83 L485.10,220.70 L485.60,220.63 L486.10,220.82 L486.60,221.06 L487.10,221.32 L487.60,221.26 L488.10,221.19 L488.60,221.36 L489.10,221.41 L489.60,221.91 L490.10,221.61 L490.60,221.39 L491.10,221.05 L491.60,221.27 L492.10,221.21 L492.60,221.34 L493.10,221.59 L493.60,221.05 L494.10,220.53 L494.60,220.78 L495.10,220.29 L495.60,220.69 L496.10,220.63 L496.60,220.36 L497.10,219.88 L497.60,220.14 L498.10,220.47 L498.60,219.99 L499.10,220.14 L499.60,220.41 L500.10,220.55 L500.60,220.53 L501.10,220.67 L501.60,220.69 L502.10,220.54 L502.60,220.70 L503.10,220.83 L503.60,220.56 L504.10,220.96 L504.60,221.06 L505.10,221.28 L505.60,221.40 L506.10,221.19 L506.60,221.24 L507.10,221.64 L507.60,221.51 L508.10,221.48 L508.60,221.17 L509.10,220.82 L509.60,221.00 L510.10,220.74 L510.60,220.79 L511.10,220.85 L511.60,220.86 L512.10,220.92 L512.60,220.59 L513.10,220.48 L513.60,221.01 L514.10,221.05 L514.60,221.19 L515.10,221.82 L515.60,221.41 L516.10,222.12 L516.60,222.25 L517.10,222.68 L517.60,222.30 L518.10,222.53 L518.60,221.82 L519.10,221.75 L519.60,222.10 L520.10,221.53 L520.60,222.14 L521.10,221.86 L521.60,221.54 L522.10,222.55 L522.60,221.90 L523.10,222.78 L523.60,221.77 L524.10,221.78 L524.60,221.85 L525.10,221.57 L525.60,220.97 L526.10,221.18 L526.60,221.05 L527.10,221.04 L527.60,220.52 L528.10,220.78 L528.60,220.95 L529.10,221.24 L529.60,221.16 L530.10,221.12 L530.60,221.18 L531.10,221.69 L531.60,221.20 L532.10,221.49 L532.60,220.88 L533.10,221.75 L533.60,221.33 L534.10,220.64 L534.60,220.99 L535.10,220.95 L535.60,220.57 L536.10,216.30 L536.60,220.15 L537.10,217.30 L537.60,219.64 L538.10,219.57 L538.60,219.68 L539.10,219.46 L539.60,220.14 L540.10,219.91 L540.60,219.85 L541.10,220.24 L541.60,220.57 L542.10,220.66 L542.60,221.06 L543.10,220.82 L543.60,220.80 L544.10,221.15 L544.60,221.35 L545.10,220.80 L545.60,220.62 L546.10,220.79 L546.60,220.87 L547.10,220.57 L547.60,220.79 L548.10,220.50 L548.60,220.89 L549.10,220.39 L549.60,220.48 L550.10,220.76 L550.60,220.97 L551.10,221.09 L551.60,220.75 L552.10,220.95 L552.60,221.08 L553.10,221.26 L553.60,220.66 L554.10,220.52 L554.60,220.88 L555.10,220.67 L555.60,221.04 L556.10,220.72 L556.60,220.81 L557.10,220.58 L557.60,220.87 L558.10,221.13 L558.60,220.82 L559.10,220.62 L559.60,221.14 L560.10,220.87 L560.60,220.94 L561.10,220.73 L561.60,221.08 L562.10,220.63 L562.60,220.67 L563.10,220.79 L563.60,220.78 L564.10,220.35 L564.60,221.08 L565.10,220.77 L565.60,221.17 L566.10,221.06 L566.60,221.15 L567.10,221.03 L567.60,221.00 L568.10,221.35 L568.60,221.44 L569.10,221.72 L569.60,221.70 L570.10,221.46 L570.60,221.93 L571.10,222.15 L571.60,221.71 L572.10,221.37 L572.60,221.02 L573.10,221.10 L573.60,220.57 L574.10,220.96 L574.60,220.56 L575.10,220.44 L575.60,220.61 L576.10,220.26 L576.60,220.18 L577.10,220.56 L577.60,221.05 L578.10,220.64 L578.60,221.14 L579.10,220.56 L579.60,221.01 L580.10,221.14 L580.60,221.40 L581.10,220.46 L581.60,220.76 L582.10,220.45 L582.60,220.64 L583.10,220.36 L583.60,220.46 L584.10,220.22 L584.60,220.24 L585.10,220.44 L585.60,220.65 L586.10,220.28 L586.60,220.18 L587.10,219.95 L587.60,220.34 L588.10,219.40 L588.60,219.32 L589.10,219.58 L589.60,219.89 L590.10,220.08 L590.60,220.11 L591.10,220.31 L591.60,220.34 L592.10,220.33 L592.60,220.29 L593.10,220.68 L593.60,220.30 L594.10,220.51 L594.60,220.44 L595.10,219.95 L595.60,219.84 L596.10,219.73 L596.60,219.99" stroke="#1e90ff" stroke-width="1.6"/>
<line x1="331.3" y1="226.2" x2="331.3" y2="3.5" stroke="#000" stroke-width="2" stroke-dasharray="5.85,2.21" stroke-dashoffset="1.3"/>
<path d="M49.00,133.73 C49.67,133.76 51.67,133.85 53.00,133.91 C54.33,133.96 55.67,134.02 57.00,134.08 C58.33,134.14 59.67,134.20 61.00,134.26 C62.33,134.32 63.67,134.38 65.00,134.44 C66.33,134.50 67.67,134.55 69.00,134.61 C70.33,134.67 71.67,134.73 73.00,134.79 C74.33,134.85 75.67,134.91 77.00,134.97 C78.33,135.03 79.67,135.08 81.00,135.14 C82.33,135.20 83.67,135.26 85.00,135.32 C86.33,135.38 87.67,135.44 89.00,135.50 C90.33,135.56 91.67,135.61 93.00,135.67 C94.33,135.73 95.67,135.79 97.00,135.85 C98.33,135.91 99.67,135.97 101.00,136.03 C102.33,136.09 103.67,136.14 105.00,136.20 C106.33,136.26 107.67,136.32 109.00,136.38 C110.33,136.44 111.67,136.50 113.00,136.56 C114.33,136.62 115.67,136.67 117.00,136.73 C118.33,136.79 119.67,136.85 121.00,136.91 C122.33,136.97 123.67,137.03 125.00,137.09 C126.33,137.15 127.67,137.20 129.00,137.26 C130.33,137.32 131.67,137.38 133.00,137.44 C134.33,137.50 135.67,137.56 137.00,137.62 C138.33,137.68 139.67,137.73 141.00,137.79 C142.33,137.85 143.67,137.91 145.00,137.97 C146.33,138.03 147.67,138.09 149.00,138.15 C150.33,138.21 151.67,138.26 153.00,138.32 C154.33,138.38 155.67,138.44 157.00,138.50 C158.33,138.56 159.67,138.62 161.00,138.68 C162.33,138.74 163.67,138.79 165.00,138.85 C166.33,138.91 167.67,138.97 169.00,139.03 C170.33,139.09 171.67,139.15 173.00,139.21 C174.33,139.27 175.67,139.32 177.00,139.38 C178.33,139.44 179.67,139.50 181.00,139.56 C182.33,139.62 183.67,139.68 185.00,139.74 C186.33,139.80 187.67,139.85 189.00,139.91 C190.33,139.97 191.67,140.03 193.00,140.09 C194.33,140.15 195.67,140.21 197.00,140.27 C198.33,140.33 199.67,140.39 201.00,140.44 C202.33,140.50 203.67,140.56 205.00,140.62 C206.33,140.68 207.67,140.74 209.00,140.80 C210.33,140.86 211.67,140.92 213.00,140.97 C214.33,141.03 215.67,141.09 217.00,141.15 C218.33,141.21 219.67,141.27 221.00,141.33 C222.33,141.39 223.67,141.45 225.00,141.50 C226.33,141.56 227.67,141.62 229.00,141.68 C230.33,141.74 231.67,141.80 233.00,141.86 C234.33,141.92 235.67,141.98 237.00,142.03 C238.33,142.09 239.67,142.15 241.00,142.21 C242.33,142.27 243.67,142.33 245.00,142.39 C246.33,142.45 247.67,142.51 249.00,142.56 C250.33,142.62 251.67,142.68 253.00,142.74 C254.33,142.80 255.67,142.86 257.00,142.92 C258.33,142.98 259.67,143.04 261.00,143.09 C262.33,143.15 263.67,143.21 265.00,143.27 C266.33,143.33 267.67,143.39 269.00,143.45 C270.33,143.51 271.67,143.57 273.00,143.62 C274.33,143.68 275.67,143.74 277.00,143.80 C278.33,143.86 279.67,143.92 281.00,143.98 C282.33,144.04 283.67,144.10 285.00,144.15 C286.33,144.21 287.67,144.27 289.00,144.33 C290.33,144.39 291.67,144.45 293.00,144.51 C294.33,144.57 295.67,144.63 297.00,144.68 C298.33,144.74 299.67,144.80 301.00,144.86 C302.33,144.92 303.67,144.98 305.00,145.04 C306.33,145.10 307.67,145.16 309.00,145.21 C310.33,145.27 311.67,145.33 313.00,145.39 C314.33,145.45 315.67,145.51 317.00,145.57 C318.33,145.63 319.67,145.69 321.00,145.74 C322.33,145.80 323.67,145.86 325.00,145.92 C326.33,145.98 328.33,146.07 329.00,146.10" stroke="#dc7a26" stroke-width="1.8"/>
<path d="M49.00,138.15 C49.67,138.17 51.67,138.23 53.00,138.27 C54.33,138.31 55.67,138.34 57.00,138.38 C58.33,138.42 59.67,138.46 61.00,138.50 C62.33,138.53 63.67,138.57 65.00,138.61 C66.33,138.65 67.67,138.69 69.00,138.72 C70.33,138.76 71.67,138.80 73.00,138.84 C74.33,138.88 75.67,138.91 77.00,138.95 C78.33,138.99 79.67,139.03 81.00,139.07 C82.33,139.10 83.67,139.14 85.00,139.18 C86.33,139.22 87.67,139.26 89.00,139.29 C90.33,139.33 91.67,139.37 93.00,139.41 C94.33,139.45 95.67,139.48 97.00,139.52 C98.33,139.56 99.67,139.60 101.00,139.64 C102.33,139.67 103.67,139.71 105.00,139.75 C106.33,139.79 107.67,139.83 109.00,139.86 C110.33,139.90 111.67,139.94 113.00,139.98 C114.33,140.02 115.67,140.05 117.00,140.09 C118.33,140.13 119.67,140.17 121.00,140.21 C122.33,140.24 123.67,140.28 125.00,140.32 C126.33,140.36 127.67,140.40 129.00,140.43 C130.33,140.47 131.67,140.51 133.00,140.55 C134.33,140.59 135.67,140.62 137.00,140.66 C138.33,140.70 139.67,140.74 141.00,140.78 C142.33,140.81 143.67,140.85 145.00,140.89 C146.33,140.93 147.67,140.97 149.00,141.00 C150.33,141.04 151.67,141.08 153.00,141.12 C154.33,141.16 155.67,141.19 157.00,141.23 C158.33,141.27 159.67,141.31 161.00,141.35 C162.33,141.38 163.67,141.42 165.00,141.46 C166.33,141.50 167.67,141.54 169.00,141.57 C170.33,141.61 171.67,141.65 173.00,141.69 C174.33,141.73 175.67,141.76 177.00,141.80 C178.33,141.84 179.67,141.88 181.00,141.92 C182.33,141.95 183.67,141.99 185.00,142.03 C186.33,142.07 187.67,142.11 189.00,142.14 C190.33,142.18 191.67,142.22 193.00,142.26 C194.33,142.30 195.67,142.33 197.00,142.37 C198.33,142.41 199.67,142.45 201.00,142.49 C202.33,142.52 203.67,142.56 205.00,142.60 C206.33,142.64 207.67,142.68 209.00,142.71 C210.33,142.75 211.67,142.79 213.00,142.83 C214.33,142.87 215.67,142.90 217.00,142.94 C218.33,142.98 219.67,143.02 221.00,143.06 C222.33,143.09 223.67,143.13 225.00,143.17 C226.33,143.21 227.67,143.25 229.00,143.28 C230.33,143.32 231.67,143.36 233.00,143.40 C234.33,143.44 235.67,143.47 237.00,143.51 C238.33,143.55 239.67,143.59 241.00,143.63 C242.33,143.66 243.67,143.70 245.00,143.74 C246.33,143.78 247.67,143.82 249.00,143.85 C250.33,143.89 251.67,143.93 253.00,143.97 C254.33,144.01 255.67,144.04 257.00,144.08 C258.33,144.12 259.67,144.16 261.00,144.20 C262.33,144.23 263.67,144.27 265.00,144.31 C266.33,144.35 267.67,144.39 269.00,144.42 C270.33,144.46 271.67,144.50 273.00,144.54 C274.33,144.58 275.67,144.61 277.00,144.65 C278.33,144.69 279.67,144.73 281.00,144.77 C282.33,144.80 283.67,144.84 285.00,144.88 C286.33,144.92 287.67,144.96 289.00,144.99 C290.33,145.03 291.67,145.07 293.00,145.11 C294.33,145.15 295.67,145.18 297.00,145.22 C298.33,145.26 299.67,145.30 301.00,145.34 C302.33,145.37 303.67,145.41 305.00,145.45 C306.33,145.49 307.67,145.53 309.00,145.56 C310.33,145.60 311.67,145.64 313.00,145.68 C314.33,145.72 315.67,145.75 317.00,145.79 C318.33,145.83 319.67,145.87 321.00,145.91 C322.33,145.94 323.67,145.98 325.00,146.02 C326.33,146.06 328.33,146.12 329.00,146.13" stroke="#dc7a26" stroke-width="1.8"/>
<path d="M49.00,135.94 C49.67,135.97 51.67,136.04 53.00,136.09 C54.33,136.14 55.67,136.18 57.00,136.23 C58.33,136.28 59.67,136.33 61.00,136.38 C62.33,136.43 63.67,136.47 65.00,136.52 C66.33,136.57 67.67,136.62 69.00,136.67 C70.33,136.72 71.67,136.77 73.00,136.81 C74.33,136.86 75.67,136.91 77.00,136.96 C78.33,137.01 79.67,137.06 81.00,137.10 C82.33,137.15 83.67,137.20 85.00,137.25 C86.33,137.30 87.67,137.35 89.00,137.40 C90.33,137.44 91.67,137.49 93.00,137.54 C94.33,137.59 95.67,137.64 97.00,137.69 C98.33,137.73 99.67,137.78 101.00,137.83 C102.33,137.88 103.67,137.93 105.00,137.98 C106.33,138.03 107.67,138.07 109.00,138.12 C110.33,138.17 111.67,138.22 113.00,138.27 C114.33,138.32 115.67,138.36 117.00,138.41 C118.33,138.46 119.67,138.51 121.00,138.56 C122.33,138.61 123.67,138.66 125.00,138.70 C126.33,138.75 127.67,138.80 129.00,138.85 C130.33,138.90 131.67,138.95 133.00,138.99 C134.33,139.04 135.67,139.09 137.00,139.14 C138.33,139.19 139.67,139.24 141.00,139.28 C142.33,139.33 143.67,139.38 145.00,139.43 C146.33,139.48 147.67,139.53 149.00,139.58 C150.33,139.62 151.67,139.67 153.00,139.72 C154.33,139.77 155.67,139.82 157.00,139.87 C158.33,139.91 159.67,139.96 161.00,140.01 C162.33,140.06 163.67,140.11 165.00,140.16 C166.33,140.21 167.67,140.25 169.00,140.30 C170.33,140.35 171.67,140.40 173.00,140.45 C174.33,140.50 175.67,140.54 177.00,140.59 C178.33,140.64 179.67,140.69 181.00,140.74 C182.33,140.79 183.67,140.84 185.00,140.88 C186.33,140.93 187.67,140.98 189.00,141.03 C190.33,141.08 191.67,141.13 193.00,141.17 C194.33,141.22 195.67,141.27 197.00,141.32 C198.33,141.37 199.67,141.42 201.00,141.47 C202.33,141.51 203.67,141.56 205.00,141.61 C206.33,141.66 207.67,141.71 209.00,141.76 C210.33,141.80 211.67,141.85 213.00,141.90 C214.33,141.95 215.67,142.00 217.00,142.05 C218.33,142.10 219.67,142.14 221.00,142.19 C222.33,142.24 223.67,142.29 225.00,142.34 C226.33,142.39 227.67,142.43 229.00,142.48 C230.33,142.53 231.67,142.58 233.00,142.63 C234.33,142.68 235.67,142.72 237.00,142.77 C238.33,142.82 239.67,142.87 241.00,142.92 C242.33,142.97 243.67,143.02 245.00,143.06 C246.33,143.11 247.67,143.16 249.00,143.21 C250.33,143.26 251.67,143.31 253.00,143.35 C254.33,143.40 255.67,143.45 257.00,143.50 C258.33,143.55 259.67,143.60 261.00,143.65 C262.33,143.69 263.67,143.74 265.00,143.79 C266.33,143.84 267.67,143.89 269.00,143.94 C270.33,143.98 271.67,144.03 273.00,144.08 C274.33,144.13 275.67,144.18 277.00,144.23 C278.33,144.28 279.67,144.32 281.00,144.37 C282.33,144.42 283.67,144.47 285.00,144.52 C286.33,144.57 287.67,144.61 289.00,144.66 C290.33,144.71 291.67,144.76 293.00,144.81 C294.33,144.86 295.67,144.91 297.00,144.95 C298.33,145.00 299.67,145.05 301.00,145.10 C302.33,145.15 303.67,145.20 305.00,145.24 C306.33,145.29 307.67,145.34 309.00,145.39 C310.33,145.44 311.67,145.49 313.00,145.54 C314.33,145.58 315.67,145.63 317.00,145.68 C318.33,145.73 319.67,145.78 321.00,145.83 C322.33,145.87 323.67,145.92 325.00,145.97 C326.33,146.02 328.33,146.09 329.00,146.12" stroke="#f6ad1e" stroke-width="1.6"/>
<path d="M200.00,141.43 C210.00,141.79 238.12,142.81 260.00,143.61 C281.88,144.40 307.97,145.16 331.30,146.20 C354.63,147.24 378.55,148.72 400.00,149.86 C421.45,151.00 438.33,151.90 460.00,153.06 C481.67,154.21 507.17,155.57 530.00,156.78 C552.83,158.00 585.83,159.76 597.00,160.35" stroke="#f29a1e" stroke-width="2.4"/>
<path d="M49.00,131.00 C49.50,130.88 51.15,130.60 52.00,130.30 C52.85,130.00 53.43,129.92 54.10,129.20 C54.77,128.48 55.42,126.87 56.00,126.00 C56.58,125.13 57.02,124.67 57.60,124.00 C58.18,123.33 58.90,122.58 59.50,122.00 C60.10,121.42 60.73,121.25 61.20,120.50 C61.67,119.75 61.95,118.45 62.30,117.50 C62.65,116.55 62.67,115.72 63.30,114.80 C63.93,113.88 65.15,113.05 66.10,112.00 C67.05,110.95 68.05,110.03 69.00,108.50 C69.95,106.97 70.88,105.55 71.80,102.80 C72.72,100.05 73.60,95.80 74.50,92.00 C75.40,88.20 75.98,84.10 77.20,80.00 C78.42,75.90 80.55,71.58 81.80,67.40 C83.05,63.22 83.97,59.05 84.70,54.90 C85.43,50.75 85.75,46.65 86.20,42.50 C86.65,38.35 87.05,33.58 87.40,30.00 C87.75,26.42 88.00,23.10 88.30,21.00 C88.60,18.90 88.92,17.23 89.20,17.40 C89.48,17.57 89.77,19.90 90.00,22.00 C90.23,24.10 90.37,26.58 90.60,30.00 C90.83,33.42 90.95,38.23 91.40,42.50 C91.85,46.77 92.55,51.35 93.30,55.60 C94.05,59.85 94.95,64.88 95.90,68.00 C96.85,71.12 97.97,73.00 99.00,74.30 C100.03,75.60 101.18,75.03 102.10,75.80 C103.02,76.57 103.72,77.08 104.50,78.90 C105.28,80.72 106.15,84.35 106.80,86.70 C107.45,89.05 107.88,90.40 108.40,93.00 C108.92,95.60 109.38,99.45 109.90,102.30 C110.42,105.15 110.72,107.48 111.50,110.10 C112.28,112.72 113.30,116.10 114.60,118.00 C115.90,119.90 117.90,120.17 119.30,121.50 C120.70,122.83 121.48,123.57 123.00,126.00 C124.52,128.43 126.88,133.87 128.40,136.10 C129.92,138.33 130.87,138.85 132.10,139.40 C133.33,139.95 134.55,139.73 135.80,139.40 C137.05,139.07 138.15,138.27 139.60,137.40 C141.05,136.53 142.85,135.00 144.50,134.20 C146.15,133.40 148.17,132.55 149.50,132.60 C150.83,132.65 151.50,133.47 152.50,134.50 C153.50,135.53 154.40,137.88 155.50,138.80 C156.60,139.72 157.60,140.00 159.10,140.00 C160.60,140.00 162.67,139.73 164.50,138.80 C166.33,137.87 168.43,134.60 170.10,134.40 C171.77,134.20 172.75,137.07 174.50,137.60 C176.25,138.13 178.40,137.73 180.60,137.60 C182.80,137.47 185.52,137.60 187.70,136.80 C189.88,136.00 191.70,134.47 193.70,132.80 C195.70,131.13 197.92,128.67 199.70,126.80 C201.48,124.93 202.82,122.78 204.40,121.60 C205.98,120.42 207.60,119.63 209.20,119.70 C210.80,119.77 212.40,120.02 214.00,122.00 C215.60,123.98 217.22,129.00 218.80,131.60 C220.38,134.20 221.52,136.20 223.50,137.60 C225.48,139.00 227.95,139.30 230.70,140.00 C233.45,140.70 236.22,141.60 240.00,141.80 C243.78,142.00 250.07,141.53 253.40,141.20 C256.73,140.87 257.77,140.37 260.00,139.80 C262.23,139.23 265.23,138.35 266.80,137.80 C268.37,137.25 268.07,136.95 269.40,136.50 C270.73,136.05 273.02,135.55 274.80,135.10 C276.58,134.65 278.32,134.47 280.10,133.80 C281.88,133.13 283.72,132.33 285.50,131.10 C287.28,129.87 289.02,128.30 290.80,126.40 C292.58,124.50 294.42,122.15 296.20,119.70 C297.98,117.25 299.93,113.92 301.50,111.70 C303.07,109.48 304.37,107.58 305.60,106.40 C306.83,105.22 307.80,104.38 308.90,104.60 C310.00,104.82 311.18,105.63 312.20,107.70 C313.22,109.77 314.10,114.12 315.00,117.00 C315.90,119.88 316.77,122.83 317.60,125.00 C318.43,127.17 318.83,128.08 320.00,130.00 C321.17,131.92 322.58,135.00 324.60,136.50 C326.62,138.00 329.53,138.42 332.10,139.00 C334.67,139.58 337.02,139.97 340.00,140.00 C342.98,140.03 346.67,139.20 350.00,139.20 C353.33,139.20 356.67,139.78 360.00,140.00 C363.33,140.22 366.67,140.17 370.00,140.50 C373.33,140.83 376.67,141.58 380.00,142.00 C383.33,142.42 386.67,142.45 390.00,143.00 C393.33,143.55 396.67,144.88 400.00,145.30 C403.33,145.72 406.67,145.80 410.00,145.50 C413.33,145.20 416.67,143.67 420.00,143.50 C423.33,143.33 426.67,144.25 430.00,144.50 C433.33,144.75 436.67,144.67 440.00,145.00 C443.33,145.33 446.67,146.12 450.00,146.50 C453.33,146.88 456.67,147.13 460.00,147.30 C463.33,147.47 466.67,147.13 470.00,147.50 C473.33,147.87 476.67,149.42 480.00,149.50 C483.33,149.58 486.65,148.33 490.00,148.00 C493.35,147.67 496.73,148.17 500.10,147.50 C503.47,146.83 506.88,144.83 510.20,144.00 C513.52,143.17 517.17,142.73 520.00,142.50 C522.83,142.27 524.70,143.18 527.20,142.60 C529.70,142.02 532.50,140.10 535.00,139.00 C537.50,137.90 539.70,136.17 542.20,136.00 C544.70,135.83 547.95,137.45 550.00,138.00 C552.05,138.55 552.98,137.98 554.50,139.30 C556.02,140.62 557.47,144.15 559.10,145.90 C560.73,147.65 562.57,148.72 564.30,149.80 C566.03,150.88 567.75,151.65 569.50,152.40 C571.25,153.15 572.62,153.65 574.80,154.30 C576.98,154.95 578.90,155.38 582.60,156.30 C586.30,157.22 594.60,159.22 597.00,159.80" stroke="#ff4500" stroke-width="3"/>
<path d="M49.00,132.20 C49.50,132.00 51.17,131.32 52.00,131.00 C52.83,130.68 53.30,130.53 54.00,130.30 C54.70,130.07 55.60,130.02 56.20,129.60 C56.80,129.18 57.12,128.38 57.60,127.80 C58.08,127.22 58.50,126.62 59.10,126.10 C59.70,125.58 60.67,125.22 61.20,124.70 C61.73,124.18 61.95,123.58 62.30,123.00 C62.65,122.42 62.85,121.73 63.30,121.20 C63.75,120.67 64.53,120.15 65.00,119.80 C65.47,119.45 65.73,119.43 66.10,119.10 C66.47,118.77 66.85,118.28 67.20,117.80 C67.55,117.32 67.85,116.83 68.20,116.20 C68.55,115.57 68.95,114.70 69.30,114.00 C69.65,113.30 69.95,112.72 70.30,112.00 C70.65,111.28 71.03,110.52 71.40,109.70 C71.77,108.88 71.97,108.63 72.50,107.10 C73.03,105.57 73.92,103.35 74.60,100.50 C75.28,97.65 75.95,93.42 76.60,90.00 C77.25,86.58 77.83,83.77 78.50,80.00 C79.17,76.23 80.00,71.58 80.60,67.40 C81.20,63.22 81.63,59.05 82.10,54.90 C82.57,50.75 82.97,46.65 83.40,42.50 C83.83,38.35 84.23,33.43 84.70,30.00 C85.17,26.57 85.77,24.77 86.20,21.90 C86.63,19.03 86.88,14.57 87.30,12.80 C87.72,11.03 88.18,11.82 88.70,11.30 C89.22,10.78 89.98,9.52 90.40,9.70 C90.82,9.88 90.95,10.37 91.20,12.40 C91.45,14.43 91.63,18.97 91.90,21.90 C92.17,24.83 92.52,26.57 92.80,30.00 C93.08,33.43 93.27,38.35 93.60,42.50 C93.93,46.65 94.33,51.32 94.80,54.90 C95.27,58.48 95.83,61.48 96.40,64.00 C96.97,66.52 97.68,68.23 98.20,70.00 C98.72,71.77 99.07,74.28 99.50,74.60 C99.93,74.92 100.23,72.80 100.80,71.90 C101.37,71.00 102.27,69.92 102.90,69.20 C103.53,68.48 104.00,67.63 104.60,67.60 C105.20,67.57 105.85,68.02 106.50,69.00 C107.15,69.98 107.78,71.42 108.50,73.50 C109.22,75.58 110.12,80.75 110.80,81.50 C111.48,82.25 111.97,79.28 112.60,78.00 C113.23,76.72 113.93,73.72 114.60,73.80 C115.27,73.88 115.98,76.22 116.60,78.50 C117.22,80.78 117.80,85.35 118.30,87.50 C118.80,89.65 119.12,91.22 119.60,91.40 C120.08,91.58 120.60,88.33 121.20,88.60 C121.80,88.87 122.62,90.98 123.20,93.00 C123.78,95.02 124.12,97.87 124.70,100.70 C125.28,103.53 126.03,107.03 126.70,110.00 C127.37,112.97 127.90,115.92 128.70,118.50 C129.50,121.08 130.52,123.40 131.50,125.50 C132.48,127.60 133.80,129.78 134.60,131.10 C135.40,132.42 135.65,133.28 136.30,133.40 C136.95,133.52 137.83,131.95 138.50,131.80 C139.17,131.65 139.65,133.63 140.30,132.50 C140.95,131.37 141.45,127.58 142.40,125.00 C143.35,122.42 144.82,118.75 146.00,117.00 C147.18,115.25 148.47,114.17 149.50,114.50 C150.53,114.83 151.32,116.75 152.20,119.00 C153.08,121.25 153.85,125.50 154.80,128.00 C155.75,130.50 156.78,132.80 157.90,134.00 C159.02,135.20 160.18,135.47 161.50,135.20 C162.82,134.93 164.37,133.27 165.80,132.40 C167.23,131.53 168.98,130.10 170.10,130.00 C171.22,129.90 171.60,130.73 172.50,131.80 C173.40,132.87 174.55,135.32 175.50,136.40 C176.45,137.48 176.95,138.10 178.20,138.30 C179.45,138.50 181.42,137.92 183.00,137.60 C184.58,137.28 186.12,136.53 187.70,136.40 C189.28,136.27 190.90,137.20 192.50,136.80 C194.10,136.40 195.72,135.47 197.30,134.00 C198.88,132.53 200.42,129.80 202.00,128.00 C203.58,126.20 205.40,124.12 206.80,123.20 C208.20,122.28 209.20,121.90 210.40,122.50 C211.60,123.10 212.80,124.88 214.00,126.80 C215.20,128.72 216.42,132.00 217.60,134.00 C218.78,136.00 219.72,137.62 221.10,138.80 C222.48,139.98 223.90,140.52 225.90,141.10 C227.90,141.68 230.75,141.73 233.10,142.30 C235.45,142.87 237.73,144.47 240.00,144.50 C242.27,144.53 244.92,142.62 246.70,142.50 C248.48,142.38 248.92,143.47 250.70,143.80 C252.48,144.13 254.95,144.20 257.40,144.50 C259.85,144.80 263.58,145.48 265.40,145.60 C267.22,145.72 267.65,145.53 268.30,145.20 C268.95,144.87 268.78,144.17 269.30,143.60 C269.82,143.03 270.03,142.20 271.40,141.80 C272.77,141.40 275.38,141.42 277.50,141.20 C279.62,140.98 281.88,141.07 284.10,140.50 C286.32,139.93 288.78,139.13 290.80,137.80 C292.82,136.47 294.42,134.73 296.20,132.50 C297.98,130.27 299.93,127.08 301.50,124.40 C303.07,121.72 304.37,118.73 305.60,116.40 C306.83,114.07 307.83,110.80 308.90,110.40 C309.97,110.00 311.12,111.67 312.00,114.00 C312.88,116.33 313.40,121.10 314.20,124.40 C315.00,127.70 315.92,131.20 316.80,133.80 C317.68,136.40 318.20,138.38 319.50,140.00 C320.80,141.62 322.50,142.38 324.60,143.50 C326.70,144.62 329.53,146.03 332.10,146.70 C334.67,147.37 337.85,147.62 340.00,147.50 C342.15,147.38 343.33,146.50 345.00,146.00 C346.67,145.50 348.33,144.67 350.00,144.50 C351.67,144.33 353.33,144.83 355.00,145.00 C356.67,145.17 357.83,145.75 360.00,145.50 C362.17,145.25 365.50,143.58 368.00,143.50 C370.50,143.42 372.67,144.58 375.00,145.00 C377.33,145.42 379.83,146.08 382.00,146.00 C384.17,145.92 386.17,144.58 388.00,144.50 C389.83,144.42 391.50,144.92 393.00,145.50 C394.50,146.08 395.83,147.12 397.00,148.00 C398.17,148.88 398.17,150.22 400.00,150.80 C401.83,151.38 405.50,151.62 408.00,151.50 C410.50,151.38 412.50,150.67 415.00,150.10 C417.50,149.53 420.50,148.20 423.00,148.10 C425.50,148.00 427.67,149.17 430.00,149.50 C432.33,149.83 434.83,150.33 437.00,150.10 C439.17,149.87 440.83,148.10 443.00,148.10 C445.17,148.10 447.83,149.70 450.00,150.10 C452.17,150.50 454.33,150.50 456.00,150.50 C457.67,150.50 458.50,150.27 460.00,150.10 C461.50,149.93 463.33,150.27 465.00,149.50 C466.67,148.73 468.33,145.42 470.00,145.50 C471.67,145.58 473.33,148.92 475.00,150.00 C476.67,151.08 478.33,152.00 480.00,152.00 C481.67,152.00 483.33,150.50 485.00,150.00 C486.67,149.50 488.32,148.83 490.00,149.00 C491.68,149.17 493.42,150.83 495.10,151.00 C496.78,151.17 498.43,150.58 500.10,150.00 C501.77,149.42 503.42,148.42 505.10,147.50 C506.78,146.58 508.52,145.50 510.20,144.50 C511.88,143.50 513.57,142.17 515.20,141.50 C516.83,140.83 518.00,139.98 520.00,140.50 C522.00,141.02 525.03,144.58 527.20,144.60 C529.37,144.62 531.20,141.87 533.00,140.60 C534.80,139.33 536.47,137.97 538.00,137.00 C539.53,136.03 540.87,134.72 542.20,134.80 C543.53,134.88 544.70,136.53 546.00,137.50 C547.30,138.47 548.92,140.35 550.00,140.60 C551.08,140.85 551.68,139.75 552.50,139.00 C553.32,138.25 554.15,136.18 554.90,136.10 C555.65,136.02 556.30,137.63 557.00,138.50 C557.70,139.37 557.88,140.40 559.10,141.30 C560.32,142.20 562.57,142.48 564.30,143.90 C566.03,145.32 567.75,148.28 569.50,149.80 C571.25,151.32 572.83,152.25 574.80,153.00 C576.77,153.75 579.13,153.65 581.30,154.30 C583.47,154.95 585.18,156.03 587.80,156.90 C590.42,157.77 595.47,159.07 597.00,159.50" stroke="#4b0082" stroke-opacity="0.92" stroke-width="4.7"/>
<path d="M85.9,13 L86.4,8.4 L88.6,8.0 L89.4,4.9 L91.9,4.9 L92.6,9.5 L92.7,13 Z" fill="#4b0082" fill-opacity="0.92" stroke="none"/>
<path d="M49.00,132.20 C49.50,132.00 51.17,131.32 52.00,131.00 C52.83,130.68 53.30,130.53 54.00,130.30 C54.70,130.07 55.60,130.02 56.20,129.60 C56.80,129.18 57.12,128.38 57.60,127.80 C58.08,127.22 58.50,126.62 59.10,126.10 C59.70,125.58 60.67,125.22 61.20,124.70 C61.73,124.18 61.95,123.58 62.30,123.00 C62.65,122.42 62.85,121.73 63.30,121.20 C63.75,120.67 64.53,120.15 65.00,119.80 C65.47,119.45 65.73,119.43 66.10,119.10 C66.47,118.77 66.85,118.28 67.20,117.80 C67.55,117.32 67.85,116.83 68.20,116.20 C68.55,115.57 68.95,114.70 69.30,114.00 C69.65,113.30 69.95,112.72 70.30,112.00 C70.65,111.28 71.03,110.52 71.40,109.70 C71.77,108.88 71.97,108.63 72.50,107.10 C73.03,105.57 73.92,103.35 74.60,100.50 C75.28,97.65 75.95,93.42 76.60,90.00 C77.25,86.58 77.83,83.77 78.50,80.00 C79.17,76.23 80.00,71.58 80.60,67.40 C81.20,63.22 81.63,59.05 82.10,54.90 C82.57,50.75 82.97,46.65 83.40,42.50 C83.83,38.35 84.23,33.43 84.70,30.00 C85.17,26.57 85.77,24.77 86.20,21.90 C86.63,19.03 86.88,14.57 87.30,12.80 C87.72,11.03 88.18,11.82 88.70,11.30 C89.22,10.78 89.98,9.52 90.40,9.70 C90.82,9.88 90.95,10.37 91.20,12.40 C91.45,14.43 91.63,18.97 91.90,21.90 C92.17,24.83 92.52,26.57 92.80,30.00 C93.08,33.43 93.27,38.35 93.60,42.50 C93.93,46.65 94.33,51.32 94.80,54.90 C95.27,58.48 95.83,61.48 96.40,64.00 C96.97,66.52 97.68,68.23 98.20,70.00 C98.72,71.77 99.07,74.28 99.50,74.60 C99.93,74.92 100.23,72.80 100.80,71.90 C101.37,71.00 102.27,69.92 102.90,69.20 C103.53,68.48 104.00,67.63 104.60,67.60 C105.20,67.57 105.85,68.02 106.50,69.00 C107.15,69.98 107.78,71.42 108.50,73.50 C109.22,75.58 110.12,80.75 110.80,81.50 C111.48,82.25 111.97,79.28 112.60,78.00 C113.23,76.72 113.93,73.72 114.60,73.80 C115.27,73.88 115.98,76.22 116.60,78.50 C117.22,80.78 117.80,85.35 118.30,87.50 C118.80,89.65 119.12,91.22 119.60,91.40 C120.08,91.58 120.60,88.33 121.20,88.60 C121.80,88.87 122.62,90.98 123.20,93.00 C123.78,95.02 124.12,97.87 124.70,100.70 C125.28,103.53 126.03,107.03 126.70,110.00 C127.37,112.97 127.90,115.92 128.70,118.50 C129.50,121.08 130.52,123.40 131.50,125.50 C132.48,127.60 133.80,129.78 134.60,131.10 C135.40,132.42 135.65,133.28 136.30,133.40 C136.95,133.52 137.83,131.95 138.50,131.80 C139.17,131.65 139.65,133.63 140.30,132.50 C140.95,131.37 141.45,127.58 142.40,125.00 C143.35,122.42 144.82,118.75 146.00,117.00 C147.18,115.25 148.47,114.17 149.50,114.50 C150.53,114.83 151.32,116.75 152.20,119.00 C153.08,121.25 153.85,125.50 154.80,128.00 C155.75,130.50 156.78,132.80 157.90,134.00 C159.02,135.20 160.18,135.47 161.50,135.20 C162.82,134.93 164.37,133.27 165.80,132.40 C167.23,131.53 168.98,130.10 170.10,130.00 C171.22,129.90 171.60,130.73 172.50,131.80 C173.40,132.87 174.55,135.32 175.50,136.40 C176.45,137.48 176.95,138.10 178.20,138.30 C179.45,138.50 181.42,137.92 183.00,137.60 C184.58,137.28 186.12,136.53 187.70,136.40 C189.28,136.27 190.90,137.20 192.50,136.80 C194.10,136.40 195.72,135.47 197.30,134.00 C198.88,132.53 200.42,129.80 202.00,128.00 C203.58,126.20 205.40,124.12 206.80,123.20 C208.20,122.28 209.20,121.90 210.40,122.50 C211.60,123.10 212.80,124.88 214.00,126.80 C215.20,128.72 216.42,132.00 217.60,134.00 C218.78,136.00 219.72,137.62 221.10,138.80 C222.48,139.98 223.90,140.52 225.90,141.10 C227.90,141.68 230.75,141.73 233.10,142.30 C235.45,142.87 237.73,144.47 240.00,144.50 C242.27,144.53 244.92,142.62 246.70,142.50 C248.48,142.38 248.92,143.47 250.70,143.80 C252.48,144.13 254.95,144.20 257.40,144.50 C259.85,144.80 263.58,145.48 265.40,145.60 C267.22,145.72 267.65,145.53 268.30,145.20 C268.95,144.87 268.78,144.17 269.30,143.60 C269.82,143.03 270.03,142.20 271.40,141.80 C272.77,141.40 275.38,141.42 277.50,141.20 C279.62,140.98 281.88,141.07 284.10,140.50 C286.32,139.93 288.78,139.13 290.80,137.80 C292.82,136.47 294.42,134.73 296.20,132.50 C297.98,130.27 299.93,127.08 301.50,124.40 C303.07,121.72 304.37,118.73 305.60,116.40 C306.83,114.07 307.83,110.80 308.90,110.40 C309.97,110.00 311.12,111.67 312.00,114.00 C312.88,116.33 313.40,121.10 314.20,124.40 C315.00,127.70 315.92,131.20 316.80,133.80 C317.68,136.40 318.20,138.38 319.50,140.00 C320.80,141.62 322.50,142.38 324.60,143.50 C326.70,144.62 329.53,146.03 332.10,146.70 C334.67,147.37 337.85,147.62 340.00,147.50 C342.15,147.38 343.33,146.50 345.00,146.00 C346.67,145.50 348.33,144.67 350.00,144.50 C351.67,144.33 353.33,144.83 355.00,145.00 C356.67,145.17 357.83,145.75 360.00,145.50 C362.17,145.25 365.50,143.58 368.00,143.50 C370.50,143.42 372.67,144.58 375.00,145.00 C377.33,145.42 379.83,146.08 382.00,146.00 C384.17,145.92 386.17,144.58 388.00,144.50 C389.83,144.42 391.50,144.92 393.00,145.50 C394.50,146.08 395.83,147.12 397.00,148.00 C398.17,148.88 398.17,150.22 400.00,150.80 C401.83,151.38 405.50,151.62 408.00,151.50 C410.50,151.38 412.50,150.67 415.00,150.10 C417.50,149.53 420.50,148.20 423.00,148.10 C425.50,148.00 427.67,149.17 430.00,149.50 C432.33,149.83 434.83,150.33 437.00,150.10 C439.17,149.87 440.83,148.10 443.00,148.10 C445.17,148.10 447.83,149.70 450.00,150.10 C452.17,150.50 454.33,150.50 456.00,150.50 C457.67,150.50 458.50,150.27 460.00,150.10 C461.50,149.93 463.33,150.27 465.00,149.50 C466.67,148.73 468.33,145.42 470.00,145.50 C471.67,145.58 473.33,148.92 475.00,150.00 C476.67,151.08 478.33,152.00 480.00,152.00 C481.67,152.00 483.33,150.50 485.00,150.00 C486.67,149.50 488.32,148.83 490.00,149.00 C491.68,149.17 493.42,150.83 495.10,151.00 C496.78,151.17 498.43,150.58 500.10,150.00 C501.77,149.42 503.42,148.42 505.10,147.50 C506.78,146.58 508.52,145.50 510.20,144.50 C511.88,143.50 513.57,142.17 515.20,141.50 C516.83,140.83 518.00,139.98 520.00,140.50 C522.00,141.02 525.03,144.58 527.20,144.60 C529.37,144.62 531.20,141.87 533.00,140.60 C534.80,139.33 536.47,137.97 538.00,137.00 C539.53,136.03 540.87,134.72 542.20,134.80 C543.53,134.88 544.70,136.53 546.00,137.50 C547.30,138.47 548.92,140.35 550.00,140.60 C551.08,140.85 551.68,139.75 552.50,139.00 C553.32,138.25 554.15,136.18 554.90,136.10 C555.65,136.02 556.30,137.63 557.00,138.50 C557.70,139.37 557.88,140.40 559.10,141.30 C560.32,142.20 562.57,142.48 564.30,143.90 C566.03,145.32 567.75,148.28 569.50,149.80 C571.25,151.32 572.83,152.25 574.80,153.00 C576.77,153.75 579.13,153.65 581.30,154.30 C583.47,154.95 585.18,156.03 587.80,156.90 C590.42,157.77 595.47,159.07 597.00,159.50" stroke="#ffc0cb" stroke-opacity="0.85" stroke-width="1.6"/>
</g>
<g clip-path="url(#c2)" fill="none" stroke-linejoin="round">
<path d="M53.00,389.02 L53.42,389.19 L53.84,390.26 L54.26,399.36 L54.68,415.00 L55.10,412.23 L55.52,389.54 L55.94,405.19 L56.36,393.24 L56.78,409.00 L57.20,386.96 L57.62,385.48 L58.04,392.05 L58.46,388.41 L58.88,390.08 L59.30,407.00 L59.72,387.16 L60.14,384.34 L60.56,391.36 L60.98,405.50 L61.40,383.45 L61.82,443.00 L62.24,384.72 L62.66,390.02 L63.08,386.50 L63.50,386.96 L63.92,418.60 L64.34,389.24 L64.76,384.33 L65.18,389.85 L65.60,412.00 L66.02,385.27 L66.44,384.70 L66.86,393.27 L67.28,433.00 L67.70,393.44 L68.12,382.73 L68.54,378.63 L68.96,379.83 L69.38,386.65 L69.80,415.30 L70.22,377.22 L70.64,383.92 L71.06,391.29 L71.48,410.00 L71.90,403.00 L72.32,385.19 L72.74,382.77 L73.16,426.70 L73.58,388.25 L74.00,377.02 L74.42,412.00 L74.84,375.66 L75.26,379.52 L75.68,376.61 L76.10,423.40 L76.52,369.23 L76.94,380.47 L77.36,375.50 L77.78,374.16 L78.20,372.85 L78.62,418.60 L79.04,363.49 L79.46,365.39 L79.88,368.75 L80.30,375.03 L80.72,410.00 L81.14,358.28 L81.56,358.10 L81.98,359.81 L82.40,350.94 L82.82,409.00 L83.24,352.68 L83.66,360.23 L84.08,341.02 L84.50,415.00 L84.92,321.40 L85.34,362.44 L85.76,315.09 L86.18,333.45 L86.60,433.20 L87.02,306.02 L87.44,301.46 L87.86,330.70 L88.28,305.94 L88.70,420.00 L89.12,308.86 L89.54,322.04 L89.96,301.71 L90.38,350.33" stroke="#a9a9a9" stroke-width="1.2"/>
<path d="M49.60,390.91 L49.85,393.15 L50.10,387.25 L50.35,393.72 L50.60,390.58 L50.85,388.75 L51.10,388.24 L51.35,387.19 L51.60,388.25 L51.85,389.70 L52.10,388.75 L52.35,388.43 L52.60,383.62 L52.85,383.55 L53.10,389.30 L53.35,387.94 L53.60,390.03 L53.85,387.82 L54.10,383.02 L54.35,387.04 L54.60,385.13 L54.85,383.61 L55.10,380.80 L55.35,381.67 L55.60,380.62 L55.85,381.99 L56.10,379.79 L56.35,382.18 L56.60,376.87 L56.85,378.95 L57.10,378.60 L57.35,375.40 L57.60,374.40 L57.85,378.66 L58.10,377.40 L58.35,375.80 L58.60,376.88 L58.85,374.58 L59.10,376.51 L59.35,374.73 L59.60,376.40 L59.85,378.01 L60.10,374.94 L60.35,377.15 L60.60,372.55 L60.85,373.49 L61.10,370.31 L61.35,372.12 L61.60,371.47 L61.85,369.76 L62.10,368.46 L62.35,370.88 L62.60,370.14 L62.85,363.40 L63.10,367.98 L63.35,360.75 L63.60,362.38 L63.85,363.16 L64.10,363.43 L64.35,360.48 L64.60,360.99 L64.85,362.63 L65.10,360.60 L65.35,360.37 L65.60,362.93 L65.85,362.93 L66.10,359.84 L66.35,359.16 L66.60,358.16 L66.85,356.26 L67.10,355.36 L67.35,353.51 L67.60,357.90 L67.85,356.89 L68.10,357.68 L68.35,359.55 L68.60,361.48 L68.85,364.79 L69.10,361.77 L69.35,362.50 L69.60,364.92 L69.85,363.21 L70.10,369.24 L70.35,369.12 L70.60,369.21 L70.85,367.78 L71.10,370.47 L71.35,370.94 L71.60,369.15 L71.85,366.71 L72.10,362.61 L72.35,368.72 L72.60,364.75 L72.85,362.82 L73.10,366.58 L73.35,364.46 L73.60,359.24 L73.85,362.04 L74.10,361.06 L74.35,363.95 L74.60,356.10 L74.85,359.93 L75.10,360.00 L75.35,363.52 L75.60,356.37 L75.85,350.95 L76.10,354.63 L76.35,358.55 L76.60,359.51 L76.85,361.40 L77.10,357.16 L77.35,353.18 L77.60,357.01 L77.85,353.77 L78.10,352.42 L78.35,352.20 L78.60,354.83 L78.85,348.23 L79.10,347.31 L79.35,349.44 L79.60,348.95 L79.85,346.40 L80.10,345.74 L80.35,348.75 L80.60,350.88 L80.85,348.43 L81.10,347.52 L81.35,348.17 L81.60,337.82 L81.85,338.10 L82.10,339.35 L82.35,336.55 L82.60,334.25 L82.85,334.75 L83.10,328.43 L83.35,328.94 L83.60,322.46 L83.85,324.10 L84.10,329.59 L84.35,322.38 L84.60,323.43 L84.85,322.94 L85.10,317.28 L85.35,318.17 L85.60,314.34 L85.85,312.88 L86.10,305.62 L86.35,299.94 L86.60,298.57 L86.85,298.21 L87.10,300.05 L87.35,296.36 L87.60,294.62 L87.85,294.41 L88.10,298.83 L88.35,295.43 L88.60,290.00 L88.85,297.14 L89.10,300.88 L89.35,307.03 L89.60,307.65 L89.85,305.39 L90.10,309.86 L90.35,309.79 L90.60,316.75 L90.85,317.51 L91.10,315.10 L91.35,320.21 L91.60,318.90 L91.85,321.11 L92.10,322.82 L92.35,322.05 L92.60,326.79 L92.85,328.53 L93.10,330.20 L93.35,334.47 L93.60,331.98 L93.85,329.80 L94.10,334.97 L94.35,339.27 L94.60,340.71 L94.85,344.70 L95.10,347.57 L95.35,346.46 L95.60,348.43 L95.85,347.21 L96.10,355.86 L96.35,351.86 L96.60,348.74 L96.85,348.18 L97.10,350.07 L97.35,356.42 L97.60,353.15 L97.85,344.05 L98.10,349.37 L98.35,350.72 L98.60,352.19 L98.85,351.48 L99.10,348.29 L99.35,352.31 L99.60,349.03 L99.85,343.00 L100.10,348.36 L100.35,348.16 L100.60,353.57 L100.85,353.35 L101.10,345.22 L101.35,348.94 L101.60,347.84 L101.85,341.34 L102.10,338.13 L102.35,344.07 L102.60,343.94 L102.85,340.44 L103.10,332.06 L103.35,340.46 L103.60,337.11 L103.85,333.90 L104.10,333.79 L104.35,328.97 L104.60,332.83 L104.85,329.07 L105.10,325.29 L105.35,326.40 L105.60,323.80 L105.85,317.60 L106.10,305.00 L106.35,318.62 L106.60,312.77 L106.85,314.80 L107.10,316.68 L107.35,311.31 L107.60,317.06 L107.85,318.16 L108.10,311.59 L108.35,314.68 L108.60,319.79 L108.85,312.52 L109.10,311.21 L109.35,313.48 L109.60,311.39 L109.85,312.98 L110.10,319.61 L110.35,319.08 L110.60,322.70 L110.85,324.84 L111.10,321.61 L111.35,323.62 L111.60,323.39 L111.85,321.97 L112.10,321.23 L112.35,324.70 L112.60,323.04 L112.85,324.47 L113.10,326.51 L113.35,326.37 L113.60,319.69 L113.85,320.80 L114.10,323.16 L114.35,324.98 L114.60,328.25 L114.85,323.02 L115.10,325.33 L115.35,327.95 L115.60,331.51 L115.85,332.56 L116.10,325.59 L116.35,328.25 L116.60,326.51 L116.85,331.65 L117.10,330.58 L117.35,328.45 L117.60,328.20 L117.85,331.73 L118.10,334.67 L118.35,330.32 L118.60,332.64 L118.85,334.93 L119.10,335.56 L119.35,337.34 L119.60,334.13 L119.85,336.07 L120.10,332.39 L120.35,339.60 L120.60,343.73 L120.85,336.11 L121.10,330.00 L121.35,347.79 L121.60,346.07 L121.85,342.06 L122.10,351.69 L122.35,344.64 L122.60,352.89 L122.85,347.32 L123.10,346.90 L123.35,348.84 L123.60,348.59 L123.85,350.36 L124.10,350.29 L124.35,348.92 L124.60,353.79 L124.85,353.06 L125.10,353.14 L125.35,354.41 L125.60,355.52 L125.85,357.35 L126.10,361.03 L126.35,362.14 L126.60,362.53 L126.85,366.41 L127.10,364.27 L127.35,366.70 L127.60,368.31 L127.85,364.08 L128.10,366.57 L128.35,371.47 L128.60,365.80 L128.85,370.90 L129.10,366.42 L129.35,370.22 L129.60,367.84 L129.85,369.79 L130.10,371.44 L130.35,372.33 L130.60,376.88 L130.85,377.81 L131.10,379.10 L131.35,378.78 L131.60,382.62 L131.85,382.08 L132.10,381.21 L132.35,378.83 L132.60,382.41 L132.85,382.40 L133.10,381.38 L133.35,382.75 L133.60,383.05 L133.85,381.16 L134.10,383.12 L134.35,382.94 L134.60,383.12 L134.85,382.07 L135.10,382.08 L135.35,383.47 L135.60,386.30 L135.85,388.35 L136.10,383.52 L136.35,382.29 L136.60,383.82 L136.85,383.09 L137.10,384.14 L137.35,385.91 L137.60,383.58 L137.85,386.54 L138.10,386.83 L138.35,388.00 L138.60,388.23 L138.85,386.26 L139.10,388.12 L139.35,382.45 L139.60,383.41 L139.85,382.76 L140.10,382.61 L140.35,383.20 L140.60,380.42 L140.85,383.95 L141.10,383.06 L141.35,381.34 L141.60,381.51 L141.85,378.80 L142.10,375.79 L142.35,379.50 L142.60,379.54 L142.85,378.63 L143.10,375.50 L143.35,375.86 L143.60,378.95 L143.85,376.39 L144.10,375.46 L144.35,373.13 L144.60,374.20 L144.85,374.42 L145.10,372.90 L145.35,370.27 L145.60,370.79 L145.85,368.18 L146.10,368.53 L146.35,369.46 L146.60,367.03 L146.85,367.05 L147.10,369.40 L147.35,366.36 L147.60,367.58 L147.85,365.53 L148.10,363.90 L148.35,365.52 L148.60,362.00 L148.85,363.77 L149.10,366.27 L149.35,368.72 L149.60,372.97 L149.85,370.89 L150.10,372.91 L150.35,375.05 L150.60,375.50 L150.85,375.37 L151.10,379.20 L151.35,379.14 L151.60,373.69 L151.85,379.04 L152.10,378.48 L152.35,379.31 L152.60,378.79 L152.85,380.73 L153.10,383.26 L153.35,383.96 L153.60,385.18 L153.85,385.33 L154.10,386.46 L154.35,387.89 L154.60,386.48 L154.85,392.78 L155.10,391.07 L155.35,392.27 L155.60,393.13 L155.85,394.83 L156.10,392.61 L156.35,397.10 L156.60,396.48 L156.85,398.26 L157.10,398.55 L157.35,400.17 L157.60,404.15 L157.85,403.64 L158.10,404.95 L158.35,405.63 L158.60,405.12 L158.85,406.36 L159.10,406.31 L159.35,408.06 L159.60,406.29 L159.85,408.96 L160.10,410.91 L160.35,411.58 L160.60,411.73 L160.85,411.10 L161.10,409.39 L161.35,411.70 L161.60,411.28 L161.85,411.05 L162.10,409.44 L162.35,411.60 L162.60,412.74 L162.85,411.87 L163.10,410.76 L163.35,411.82 L163.60,411.39 L163.85,411.87 L164.10,412.95 L164.35,412.63 L164.60,412.56 L164.85,413.12 L165.10,411.81 L165.35,411.66 L165.60,413.40 L165.85,412.04 L166.10,413.29 L166.35,410.28 L166.60,413.74 L166.85,412.05 L167.10,414.03 L167.35,409.00 L167.60,410.24 L167.85,414.34 L168.10,413.32 L168.35,413.99 L168.60,414.31 L168.85,414.92 L169.10,415.98 L169.35,414.76 L169.60,416.41 L169.85,418.80 L170.10,418.10 L170.35,417.76 L170.60,419.21 L170.85,420.91 L171.10,420.00 L171.35,420.61 L171.60,422.00 L171.85,423.05 L172.10,424.43 L172.35,423.15 L172.60,424.35 L172.85,425.77 L173.10,422.79 L173.35,425.72 L173.60,426.51 L173.85,426.21 L174.10,425.58 L174.35,427.55 L174.60,428.55 L174.85,427.16 L175.10,426.88 L175.35,427.38 L175.60,429.66 L175.85,429.44 L176.10,428.15 L176.35,426.84 L176.60,426.69 L176.85,427.86 L177.10,427.94 L177.35,428.75 L177.60,427.25 L177.85,428.71 L178.10,429.85 L178.35,427.63 L178.60,432.89 L178.85,431.36 L179.10,431.81 L179.35,430.11 L179.60,430.83 L179.85,433.47 L180.10,432.95 L180.35,428.55 L180.60,432.36 L180.85,431.34 L181.10,430.72 L181.35,428.17 L181.60,429.37 L181.85,427.96 L182.10,429.04 L182.35,430.33 L182.60,428.71 L182.85,429.05 L183.10,427.39 L183.35,426.50 L183.60,427.71 L183.85,428.88 L184.10,429.29 L184.35,427.27 L184.60,427.40 L184.85,426.29 L185.10,424.25 L185.35,425.93 L185.60,425.75 L185.85,424.37 L186.10,424.20 L186.35,421.82 L186.60,423.64 L186.85,424.83 L187.10,422.75 L187.35,423.12 L187.60,422.56 L187.85,420.74 L188.10,421.51 L188.35,419.88 L188.60,423.92 L188.85,420.21 L189.10,418.15 L189.35,417.08 L189.60,420.15 L189.85,418.53 L190.10,417.72 L190.35,415.13 L190.60,415.72 L190.85,414.69 L191.10,417.32 L191.35,415.33 L191.60,418.27 L191.85,416.60 L192.10,415.56 L192.35,417.41 L192.60,413.03 L192.85,414.14 L193.10,414.12 L193.35,415.22 L193.60,414.50 L193.85,412.87 L194.10,409.57 L194.35,410.36 L194.60,409.04 L194.85,411.29 L195.10,408.69 L195.35,409.45 L195.60,410.56 L195.85,407.88 L196.10,408.50 L196.35,406.93 L196.60,407.22 L196.85,407.04 L197.10,406.90 L197.35,406.92 L197.60,406.38 L197.85,409.14 L198.10,406.21 L198.35,407.35 L198.60,406.72 L198.85,404.29 L199.10,407.97 L199.35,406.74 L199.60,404.33 L199.85,404.51 L200.10,402.77 L200.35,404.31 L200.60,405.07 L200.85,403.87 L201.10,400.05 L201.35,398.80 L201.60,400.86 L201.85,401.64 L202.10,399.03 L202.35,399.69 L202.60,396.09 L202.85,397.12 L203.10,397.23 L203.35,395.59 L203.60,395.18 L203.85,395.57 L204.10,393.22 L204.35,392.09 L204.60,393.70 L204.85,392.53 L205.10,390.45 L205.35,391.83 L205.60,390.11 L205.85,391.21 L206.10,389.88 L206.35,388.99 L206.60,387.78 L206.85,388.43 L207.10,387.44 L207.35,389.42 L207.60,386.36 L207.85,384.10 L208.10,388.10 L208.35,382.10 L208.60,386.48 L208.85,382.55 L209.10,384.99 L209.35,382.27 L209.60,382.61 L209.85,381.21 L210.10,380.26 L210.35,380.33 L210.60,377.90 L210.85,378.56 L211.10,375.53 L211.35,375.13 L211.60,374.59 L211.85,374.35 L212.10,371.00 L212.35,372.56 L212.60,373.00 L212.85,373.15 L213.10,374.69 L213.35,376.59 L213.60,375.27 L213.85,376.45 L214.10,376.55 L214.35,378.04 L214.60,375.57 L214.85,379.87 L215.10,380.91 L215.35,378.90 L215.60,380.56 L215.85,379.82 L216.10,383.18 L216.35,383.08 L216.60,387.00 L216.85,382.61 L217.10,381.93 L217.35,383.03 L217.60,382.34 L217.85,385.28 L218.10,386.07 L218.35,387.76 L218.60,387.64 L218.85,387.06 L219.10,390.82 L219.35,390.56 L219.60,392.03 L219.85,389.63 L220.10,391.35 L220.35,392.88 L220.60,394.53 L220.85,392.47 L221.10,399.80 L221.35,398.34 L221.60,401.39 L221.85,402.30 L222.10,404.70 L222.35,403.67 L222.60,403.80 L222.85,402.20 L223.10,404.49 L223.35,408.39 L223.60,402.16 L223.85,405.03 L224.10,407.77 L224.35,411.23 L224.60,406.34 L224.85,408.23 L225.10,409.94 L225.35,416.45 L225.60,408.44 L225.85,410.14 L226.10,412.17 L226.35,409.26 L226.60,411.65 L226.85,411.79 L227.10,410.18 L227.35,411.44 L227.60,414.04 L227.85,410.33 L228.10,408.80 L228.35,407.76 L228.60,409.52 L228.85,411.00 L229.10,408.99 L229.35,409.35 L229.60,414.50 L229.85,407.47 L230.10,407.13 L230.35,410.40 L230.60,409.69 L230.85,411.66 L231.10,413.22 L231.35,411.28 L231.60,409.86 L231.85,411.03 L232.10,410.43 L232.35,408.58 L232.60,406.89 L232.85,408.96 L233.10,406.50 L233.35,403.96 L233.60,407.59 L233.85,404.77 L234.10,404.67 L234.35,407.35 L234.60,404.39 L234.85,405.96 L235.10,404.46 L235.35,403.53 L235.60,407.76 L235.85,410.74 L236.10,405.47 L236.35,410.05 L236.60,409.86 L236.85,410.84 L237.10,405.09 L237.35,406.04 L237.60,411.21 L237.85,407.43 L238.10,407.53 L238.35,409.06 L238.60,408.71 L238.85,405.86 L239.10,406.27 L239.35,407.74 L239.60,406.38 L239.85,403.53 L240.10,407.45 L240.35,405.86 L240.60,402.62 L240.85,401.60 L241.10,404.58 L241.35,396.74 L241.60,402.44 L241.85,400.96 L242.10,401.05 L242.35,405.03 L242.60,404.19 L242.85,411.03 L243.10,403.96 L243.35,405.67 L243.60,401.82 L243.85,407.48 L244.10,403.72 L244.35,405.47 L244.60,407.80 L244.85,407.46 L245.10,405.80 L245.35,407.64 L245.60,403.67 L245.85,402.58 L246.10,401.28 L246.35,406.17 L246.60,409.46 L246.85,404.00 L247.10,404.63 L247.35,403.68 L247.60,405.39 L247.85,399.71 L248.10,405.87 L248.35,406.25 L248.60,401.92 L248.85,401.05 L249.10,401.25 L249.35,404.58 L249.60,406.63 L249.85,400.71 L250.10,399.31 L250.35,403.16 L250.60,403.48 L250.85,404.49 L251.10,401.12 L251.35,404.54 L251.60,405.51 L251.85,399.19 L252.10,417.00 L252.35,404.77 L252.60,405.26 L252.85,402.24 L253.10,399.00 L253.35,401.68 L253.60,399.99 L253.85,401.81 L254.10,405.07 L254.35,400.74 L254.60,402.00 L254.85,398.65 L255.10,403.43 L255.35,399.77 L255.60,398.98 L255.85,406.07 L256.10,402.95 L256.35,404.23 L256.60,398.46 L256.85,406.65 L257.10,407.39 L257.35,402.92 L257.60,402.07 L257.85,400.71 L258.10,414.00 L258.35,396.53 L258.60,399.81 L258.85,402.64 L259.10,397.53 L259.35,401.06 L259.60,396.30 L259.85,395.64 L260.10,398.75 L260.35,397.09 L260.60,398.27 L260.85,398.07 L261.10,397.27 L261.35,400.36 L261.60,403.70 L261.85,405.55 L262.10,403.95 L262.35,405.71 L262.60,403.80 L262.85,406.28 L263.10,407.04 L263.35,407.70 L263.60,408.63 L263.85,409.65 L264.10,411.75 L264.35,410.78 L264.60,410.08 L264.85,405.98 L265.10,406.44 L265.35,407.74 L265.60,407.29 L265.85,408.19 L266.10,402.41 L266.35,406.52 L266.60,406.48 L266.85,405.77 L267.10,405.26 L267.35,408.06 L267.60,407.85 L267.85,409.78 L268.10,404.89 L268.35,407.58 L268.60,412.92 L268.85,410.05 L269.10,407.69 L269.35,408.33 L269.60,405.84 L269.85,411.19 L270.10,410.73 L270.35,409.07 L270.60,409.26 L270.85,407.20 L271.10,408.53 L271.35,406.63 L271.60,407.86 L271.85,404.49 L272.10,404.10 L272.35,402.93 L272.60,402.87 L272.85,400.34 L273.10,406.22 L273.35,406.19 L273.60,404.58 L273.85,404.88 L274.10,402.96 L274.35,403.11 L274.60,398.87 L274.85,401.02 L275.10,396.96 L275.35,398.84 L275.60,399.27 L275.85,398.91 L276.10,397.20 L276.35,401.82 L276.60,401.23 L276.85,398.31 L277.10,397.10 L277.35,398.79 L277.60,401.82 L277.85,396.53 L278.10,402.00 L278.35,400.37 L278.60,399.97 L278.85,402.69 L279.10,400.74 L279.35,399.90 L279.60,402.63 L279.85,397.04 L280.10,402.63 L280.35,397.71 L280.60,397.28 L280.85,401.17 L281.10,403.69 L281.35,399.28 L281.60,394.95 L281.85,391.95 L282.10,395.64 L282.35,394.66 L282.60,393.14 L282.85,393.50 L283.10,392.17 L283.35,394.41 L283.60,392.50 L283.85,391.99 L284.10,388.37 L284.35,392.20 L284.60,389.13 L284.85,392.56 L285.10,391.16 L285.35,387.87 L285.60,390.66 L285.85,389.41 L286.10,392.39 L286.35,392.46 L286.60,393.69 L286.85,391.12 L287.10,393.39 L287.35,390.78 L287.60,393.64 L287.85,392.98 L288.10,393.83 L288.35,393.53 L288.60,395.09 L288.85,393.02 L289.10,393.16 L289.35,395.30 L289.60,392.98 L289.85,392.04 L290.10,391.11 L290.35,392.01 L290.60,391.53 L290.85,392.06 L291.10,390.45 L291.35,391.21 L291.60,389.32 L291.85,391.44 L292.10,388.43 L292.35,388.78 L292.60,387.60 L292.85,384.31 L293.10,386.93 L293.35,384.01 L293.60,385.25 L293.85,380.34 L294.10,380.06 L294.35,379.48 L294.60,379.56 L294.85,381.53 L295.10,382.04 L295.35,380.65 L295.60,381.64 L295.85,381.17 L296.10,383.31 L296.35,383.25 L296.60,382.60 L296.85,383.05 L297.10,384.58 L297.35,382.87 L297.60,379.50 L297.85,381.36 L298.10,381.09 L298.35,382.66 L298.60,382.00 L298.85,382.45 L299.10,378.64 L299.35,383.06 L299.60,380.62 L299.85,382.28 L300.10,381.49 L300.35,379.27 L300.60,379.15 L300.85,381.02 L301.10,381.35 L301.35,377.46 L301.60,376.23 L301.85,373.79 L302.10,374.44 L302.35,373.59 L302.60,373.20 L302.85,373.62 L303.10,371.02 L303.35,369.33 L303.60,369.96 L303.85,370.07 L304.10,370.21 L304.35,370.07 L304.60,369.51 L304.85,370.65 L305.10,369.29 L305.35,368.05 L305.60,369.42 L305.85,372.63 L306.10,368.26 L306.35,373.46 L306.60,368.60 L306.85,370.47 L307.10,366.00 L307.35,368.78 L307.60,370.97 L307.85,366.30 L308.10,366.52 L308.35,367.62 L308.60,367.01 L308.85,363.28 L309.10,362.93 L309.35,364.77 L309.60,364.14 L309.85,364.79 L310.10,363.66 L310.35,365.43 L310.60,366.96 L310.85,363.55 L311.10,367.98 L311.35,368.28 L311.60,369.90 L311.85,367.81 L312.10,369.08 L312.35,369.89 L312.60,369.52 L312.85,372.57 L313.10,371.80 L313.35,370.31 L313.60,373.08 L313.85,371.56 L314.10,371.52 L314.35,373.29 L314.60,376.02 L314.85,377.39 L315.10,378.36 L315.35,380.78 L315.60,384.36 L315.85,380.27 L316.10,384.00 L316.35,384.75 L316.60,383.19 L316.85,385.29 L317.10,387.40 L317.35,387.96 L317.60,387.26 L317.85,390.78 L318.10,390.56 L318.35,391.92 L318.60,394.26 L318.85,389.98 L319.10,394.73 L319.35,394.78 L319.60,393.53 L319.85,395.75 L320.10,395.76 L320.35,395.19 L320.60,399.52 L320.85,397.57 L321.10,396.11 L321.35,401.77 L321.60,399.87 L321.85,401.60 L322.10,401.30 L322.35,400.21 L322.60,399.79 L322.85,395.62 L323.10,399.11 L323.35,397.60 L323.60,400.44 L323.85,398.12 L324.10,398.41 L324.35,399.85 L324.60,397.66 L324.85,398.45 L325.10,398.77 L325.35,400.22 L325.60,396.63 L325.85,400.41 L326.10,398.53 L326.35,397.68 L326.60,399.12 L326.85,400.33 L327.10,400.65 L327.35,396.75 L327.60,401.29 L327.85,399.05 L328.10,401.54 L328.35,397.25 L328.60,398.91 L328.85,398.99 L329.10,396.75 L329.35,398.16 L329.60,400.61 L329.85,401.19 L330.10,400.74 L330.35,400.60 L330.60,399.94 L330.85,405.48 L331.10,400.11 L331.35,401.45 L331.60,403.39 L331.85,406.29 L332.10,406.03 L332.35,408.95 L332.60,405.06 L332.85,409.90 L333.10,411.85 L333.35,410.28 L333.60,408.03 L333.85,407.30 L334.10,410.22 L334.35,404.70 L334.60,406.04 L334.85,403.99 L335.10,406.44 L335.35,409.74 L335.60,405.16 L335.85,407.69 L336.10,403.44 L336.35,404.25 L336.60,404.13 L336.85,407.20 L337.10,403.71 L337.35,404.27 L337.60,405.76 L337.85,408.87 L338.10,406.31 L338.35,409.70 L338.60,407.26 L338.85,406.16 L339.10,408.82 L339.35,405.61 L339.60,404.95 L339.85,406.83 L340.10,403.67 L340.35,404.23 L340.60,404.85 L340.85,406.33 L341.10,408.10 L341.35,408.17 L341.60,405.47 L341.85,405.98 L342.10,404.58 L342.35,402.03 L342.60,404.90 L342.85,402.22 L343.10,404.44 L343.35,401.53 L343.60,400.27 L343.85,402.49 L344.10,400.67 L344.35,399.15 L344.60,403.49 L344.85,402.15 L345.10,402.13 L345.35,401.65 L345.60,400.38 L345.85,396.10 L346.10,400.17 L346.35,400.30 L346.60,401.86 L346.85,398.64 L347.10,402.05 L347.35,401.38 L347.60,404.27 L347.85,400.44 L348.10,402.09 L348.35,402.80 L348.60,403.70 L348.85,405.25 L349.10,403.97 L349.35,400.68 L349.60,406.60 L349.85,400.02 L350.10,405.17 L350.35,406.68 L350.60,403.17 L350.85,404.55 L351.10,404.60 L351.35,402.64 L351.60,405.28 L351.85,402.51 L352.10,404.48 L352.35,404.47 L352.60,404.79 L352.85,404.67 L353.10,402.38 L353.35,402.07 L353.60,400.49 L353.85,400.71 L354.10,402.63 L354.35,402.76 L354.60,402.64 L354.85,402.28 L355.10,404.78 L355.35,401.26 L355.60,402.77 L355.85,404.45 L356.10,406.25 L356.35,401.77 L356.60,401.88 L356.85,401.27 L357.10,404.46 L357.35,404.12 L357.60,405.01 L357.85,405.93 L358.10,399.04 L358.35,400.59 L358.60,399.65 L358.85,398.44 L359.10,400.42 L359.35,399.22 L359.60,400.49 L359.85,399.57 L360.10,397.60 L360.35,401.54 L360.60,401.72 L360.85,400.17 L361.10,397.35 L361.35,397.54 L361.60,399.80 L361.85,403.52 L362.10,404.44 L362.35,403.55 L362.60,403.57 L362.85,398.55 L363.10,403.65 L363.35,401.26 L363.60,401.57 L363.85,399.84 L364.10,397.54 L364.35,402.46 L364.60,401.63 L364.85,398.93 L365.10,398.08 L365.35,399.86 L365.60,402.67 L365.85,401.98 L366.10,400.88 L366.35,402.20 L366.60,400.77 L366.85,397.95 L367.10,400.54 L367.35,398.86 L367.60,397.19 L367.85,400.76 L368.10,399.53 L368.35,396.38 L368.60,401.01 L368.85,400.60 L369.10,400.28 L369.35,400.86 L369.60,400.52 L369.85,400.30 L370.10,403.96 L370.35,404.51 L370.60,402.98 L370.85,403.88 L371.10,402.34 L371.35,401.92 L371.60,403.01 L371.85,402.45 L372.10,403.68 L372.35,399.74 L372.60,400.90 L372.85,399.70 L373.10,400.29 L373.35,402.20 L373.60,400.73 L373.85,398.76 L374.10,399.65 L374.35,399.76 L374.60,400.73 L374.85,400.32 L375.10,400.93 L375.35,401.76 L375.60,402.83 L375.85,400.74 L376.10,402.46 L376.35,402.37 L376.60,403.77 L376.85,402.56 L377.10,402.91 L377.35,402.31 L377.60,403.76 L377.85,401.28 L378.10,398.68 L378.35,402.07 L378.60,399.69 L378.85,397.58 L379.10,402.84 L379.35,402.25 L379.60,403.05 L379.85,403.89 L380.10,402.99 L380.35,405.43 L380.60,403.52 L380.85,402.56 L381.10,402.71 L381.35,398.27 L381.60,402.20 L381.85,397.81 L382.10,400.48 L382.35,398.83 L382.60,398.71 L382.85,396.77 L383.10,401.19 L383.35,394.47 L383.60,398.19 L383.85,397.15 L384.10,396.32 L384.35,402.32 L384.60,400.49 L384.85,405.01 L385.10,402.35 L385.35,402.13 L385.60,402.46 L385.85,399.21 L386.10,399.22 L386.35,404.24 L386.60,403.05 L386.85,400.11 L387.10,401.50 L387.35,401.40 L387.60,403.08 L387.85,401.23 L388.10,399.08 L388.35,401.62 L388.60,399.01 L388.85,400.92 L389.10,398.77 L389.35,394.12 L389.60,402.89 L389.85,398.38 L390.10,402.12 L390.35,401.76 L390.60,400.00 L390.85,399.23 L391.10,405.27 L391.35,402.61 L391.60,404.94 L391.85,403.55 L392.10,404.91 L392.35,403.73 L392.60,400.93 L392.85,401.67 L393.10,403.43 L393.35,400.08 L393.60,401.07 L393.85,400.90 L394.10,402.54 L394.35,403.03 L394.60,395.94 L394.85,400.21 L395.10,402.61 L395.35,396.83 L395.60,397.47 L395.85,401.86 L396.10,400.42 L396.35,399.61 L396.60,401.59 L396.85,403.20 L397.10,402.73 L397.35,403.91 L397.60,404.20 L397.85,405.05 L398.10,405.08 L398.35,405.71 L398.60,404.79 L398.85,407.15 L399.10,404.56 L399.35,404.18 L399.60,402.49 L399.85,403.83 L400.10,405.53 L400.35,404.95 L400.60,406.42 L400.85,403.27 L401.10,404.29 L401.35,401.86 L401.60,404.95 L401.85,407.10 L402.10,406.07 L402.35,404.33 L402.60,405.77 L402.85,405.27 L403.10,403.08 L403.35,402.90 L403.60,403.19 L403.85,405.95 L404.10,406.55 L404.35,406.67 L404.60,405.95 L404.85,410.40 L405.10,407.05 L405.35,408.77 L405.60,408.60 L405.85,410.53 L406.10,405.84 L406.35,410.07 L406.60,408.96 L406.85,409.30 L407.10,407.65 L407.35,408.29 L407.60,411.84 L407.85,411.10 L408.10,406.67 L408.35,409.43 L408.60,407.68 L408.85,410.02 L409.10,408.31 L409.35,408.25 L409.60,406.08 L409.85,405.60 L410.10,403.65 L410.35,401.45 L410.60,402.57 L410.85,405.36 L411.10,405.15 L411.35,400.75 L411.60,400.60 L411.85,400.76 L412.10,400.77 L412.35,400.27 L412.60,401.49 L412.85,404.36 L413.10,404.94 L413.35,407.14 L413.60,404.07 L413.85,400.68 L414.10,403.72 L414.35,402.77 L414.60,403.98 L414.85,403.03 L415.10,405.89 L415.35,402.28 L415.60,403.58 L415.85,406.70 L416.10,403.25 L416.35,400.21 L416.60,404.98 L416.85,404.27 L417.10,404.50 L417.35,404.81 L417.60,401.74 L417.85,401.47 L418.10,403.25 L418.35,399.36 L418.60,400.30 L418.85,403.25 L419.10,398.00 L419.35,400.21 L419.60,400.78 L419.85,398.09 L420.10,396.89 L420.35,399.80 L420.60,394.69 L420.85,400.28 L421.10,395.67 L421.35,397.61 L421.60,395.81 L421.85,396.16 L422.10,400.30 L422.35,398.96 L422.60,400.07 L422.85,396.90 L423.10,398.78 L423.35,397.24 L423.60,399.58 L423.85,400.64 L424.10,400.96 L424.35,401.33 L424.60,399.60 L424.85,402.41 L425.10,401.10 L425.35,404.95 L425.60,402.58 L425.85,405.46 L426.10,402.77 L426.35,404.69 L426.60,403.75 L426.85,400.31 L427.10,403.86 L427.35,400.43 L427.60,398.28 L427.85,401.31 L428.10,402.61 L428.35,401.37 L428.60,397.98 L428.85,396.01 L429.10,393.95 L429.35,397.65 L429.60,397.90 L429.85,398.77 L430.10,401.68 L430.35,399.38 L430.60,398.15 L430.85,398.50 L431.10,399.17 L431.35,399.99 L431.60,402.02 L431.85,400.88 L432.10,401.32 L432.35,401.58 L432.60,401.69 L432.85,402.47 L433.10,403.46 L433.35,399.47 L433.60,400.91 L433.85,401.39 L434.10,401.47 L434.35,403.39 L434.60,403.22 L434.85,400.55 L435.10,404.57 L435.35,401.97 L435.60,401.73 L435.85,398.63 L436.10,400.52 L436.35,397.68 L436.60,395.86 L436.85,397.39 L437.10,394.98 L437.35,394.79 L437.60,397.82 L437.85,398.74 L438.10,396.32 L438.35,399.80 L438.60,400.54 L438.85,400.74 L439.10,399.34 L439.35,398.12 L439.60,401.47 L439.85,397.63 L440.10,398.99 L440.35,399.96 L440.60,400.88 L440.85,398.14 L441.10,398.14 L441.35,398.83 L441.60,398.55 L441.85,400.62 L442.10,401.00 L442.35,402.71 L442.60,399.76 L442.85,401.51 L443.10,398.88 L443.35,399.39 L443.60,402.69 L443.85,399.24 L444.10,395.95 L444.35,398.35 L444.60,398.28 L444.85,395.78 L445.10,399.60 L445.35,400.81 L445.60,398.25 L445.85,401.02 L446.10,395.18 L446.35,400.38 L446.60,398.82 L446.85,403.05 L447.10,398.88 L447.35,398.98 L447.60,399.33 L447.85,399.19 L448.10,399.69 L448.35,402.33 L448.60,402.13 L448.85,402.70 L449.10,403.06 L449.35,401.54 L449.60,406.52 L449.85,401.06 L450.10,404.57 L450.35,402.21 L450.60,404.16 L450.85,401.42 L451.10,403.57 L451.35,402.10 L451.60,403.10 L451.85,404.39 L452.10,400.86 L452.35,400.62 L452.60,395.74 L452.85,400.29 L453.10,401.99 L453.35,399.91 L453.60,400.60 L453.85,400.28 L454.10,397.04 L454.35,402.34 L454.60,399.36 L454.85,398.12 L455.10,402.43 L455.35,401.18 L455.60,401.37 L455.85,400.43 L456.10,398.87 L456.35,401.80 L456.60,398.60 L456.85,400.95 L457.10,398.94 L457.35,399.21 L457.60,403.39 L457.85,401.01 L458.10,406.13 L458.35,401.27 L458.60,406.26 L458.85,404.06 L459.10,406.27 L459.35,406.12 L459.60,401.10 L459.85,405.18 L460.10,402.75 L460.35,400.73 L460.60,403.56 L460.85,401.37 L461.10,400.63 L461.35,401.82 L461.60,400.61 L461.85,398.64 L462.10,396.93 L462.35,401.44 L462.60,397.83 L462.85,396.56 L463.10,403.82 L463.35,404.76 L463.60,398.31 L463.85,402.60 L464.10,399.55 L464.35,403.55 L464.60,401.42 L464.85,399.38 L465.10,403.40 L465.35,399.38 L465.60,401.12 L465.85,398.40 L466.10,402.21 L466.35,400.35 L466.60,396.91 L466.85,393.26 L467.10,397.73 L467.35,395.07 L467.60,399.01 L467.85,399.72 L468.10,396.79 L468.35,398.58 L468.60,394.52 L468.85,398.34 L469.10,400.65 L469.35,395.29 L469.60,399.73 L469.85,399.23 L470.10,400.99 L470.35,400.17 L470.60,400.53 L470.85,403.43 L471.10,401.57 L471.35,402.62 L471.60,399.19 L471.85,402.52 L472.10,403.06 L472.35,401.47 L472.60,401.66 L472.85,397.94 L473.10,399.78 L473.35,401.32 L473.60,401.34 L473.85,406.24 L474.10,403.74 L474.35,400.13 L474.60,406.90 L474.85,400.01 L475.10,400.58 L475.35,401.14 L475.60,402.66 L475.85,407.59 L476.10,401.93 L476.35,403.15 L476.60,398.96 L476.85,400.59 L477.10,406.11 L477.35,403.49 L477.60,402.61 L477.85,403.71 L478.10,401.84 L478.35,401.81 L478.60,398.76 L478.85,398.08 L479.10,399.93 L479.35,400.91 L479.60,400.42 L479.85,403.90 L480.10,406.60 L480.35,403.49 L480.60,400.92 L480.85,401.92 L481.10,406.59 L481.35,406.16 L481.60,404.96 L481.85,405.47 L482.10,406.01 L482.35,403.39 L482.60,403.36 L482.85,401.55 L483.10,397.86 L483.35,401.52 L483.60,400.87 L483.85,401.41 L484.10,399.31 L484.35,400.96 L484.60,400.71 L484.85,398.93 L485.10,397.58 L485.35,398.00 L485.60,399.83 L485.85,400.72 L486.10,402.46 L486.35,398.58 L486.60,399.65 L486.85,400.95 L487.10,396.50 L487.35,399.58 L487.60,397.24 L487.85,397.20 L488.10,399.20 L488.35,396.96 L488.60,397.84 L488.85,394.81 L489.10,396.79 L489.35,395.22 L489.60,396.52 L489.85,403.11 L490.10,397.95 L490.35,398.04 L490.60,398.24 L490.85,398.01 L491.10,403.59 L491.35,398.94 L491.60,405.34 L491.85,400.27 L492.10,403.31 L492.35,401.21 L492.60,399.88 L492.85,401.07 L493.10,404.50 L493.35,402.01 L493.60,399.09 L493.85,407.51 L494.10,403.07 L494.35,404.57 L494.60,408.90 L494.85,403.10 L495.10,405.86 L495.35,408.35 L495.60,408.27 L495.85,407.88 L496.10,404.25 L496.35,407.37 L496.60,403.76 L496.85,404.21 L497.10,401.10 L497.35,405.70 L497.60,400.61 L497.85,400.46 L498.10,398.77 L498.35,400.01 L498.60,395.85 L498.85,397.85 L499.10,397.15 L499.35,400.62 L499.60,396.38 L499.85,396.56 L500.10,397.15 L500.35,398.92 L500.60,400.89 L500.85,397.52 L501.10,397.52 L501.35,399.59 L501.60,396.10 L501.85,396.59 L502.10,394.21 L502.35,394.86 L502.60,393.39 L502.85,399.49 L503.10,396.69 L503.35,396.74 L503.60,393.60 L503.85,396.44 L504.10,395.35 L504.35,395.92 L504.60,395.07 L504.85,396.93 L505.10,404.01 L505.35,397.32 L505.60,399.89 L505.85,400.17 L506.10,398.74 L506.35,398.90 L506.60,394.77 L506.85,399.69 L507.10,400.54 L507.35,396.03 L507.60,394.41 L507.85,394.22 L508.10,393.36 L508.35,397.71 L508.60,398.55 L508.85,400.74 L509.10,394.85 L509.35,399.75 L509.60,399.71 L509.85,397.89 L510.10,396.66 L510.35,399.04 L510.60,402.86 L510.85,395.17 L511.10,396.16 L511.35,395.73 L511.60,395.89 L511.85,397.80 L512.10,393.73 L512.35,389.14 L512.60,390.48 L512.85,389.67 L513.10,392.19 L513.35,391.34 L513.60,388.06 L513.85,391.59 L514.10,385.89 L514.35,389.22 L514.60,392.27 L514.85,386.09 L515.10,390.61 L515.35,391.46 L515.60,388.25 L515.85,389.58 L516.10,386.20 L516.35,390.35 L516.60,387.50 L516.85,389.45 L517.10,392.26 L517.35,391.35 L517.60,390.64 L517.85,393.68 L518.10,393.90 L518.35,393.38 L518.60,391.36 L518.85,395.48 L519.10,397.98 L519.35,394.80 L519.60,394.77 L519.85,394.59 L520.10,396.01 L520.35,391.35 L520.60,395.45 L520.85,397.35 L521.10,393.07 L521.35,391.26 L521.60,391.24 L521.85,390.63 L522.10,388.34 L522.35,388.44 L522.60,388.09 L522.85,389.61 L523.10,392.52 L523.35,388.86 L523.60,392.96 L523.85,386.81 L524.10,390.27 L524.35,387.13 L524.60,388.92 L524.85,388.48 L525.10,384.71 L525.35,388.44 L525.60,390.14 L525.85,390.39 L526.10,387.13 L526.35,387.82 L526.60,392.94 L526.85,390.23 L527.10,397.61 L527.35,394.67 L527.60,395.43 L527.85,394.98 L528.10,394.18 L528.35,396.85 L528.60,396.10 L528.85,400.07 L529.10,397.40 L529.35,397.76 L529.60,399.66 L529.85,399.55 L530.10,392.95 L530.35,401.18 L530.60,393.09 L530.85,393.47 L531.10,394.09 L531.35,391.91 L531.60,396.33 L531.85,391.18 L532.10,387.35 L532.35,387.72 L532.60,385.65 L532.85,384.86 L533.10,386.30 L533.35,385.93 L533.60,383.94 L533.85,381.12 L534.10,382.49 L534.35,385.95 L534.60,385.33 L534.85,383.87 L535.10,386.70 L535.35,381.58 L535.60,384.74 L535.85,386.94 L536.10,388.11 L536.35,390.23 L536.60,388.48 L536.85,389.12 L537.10,388.82 L537.35,386.01 L537.60,387.66 L537.85,390.85 L538.10,388.99 L538.35,386.47 L538.60,386.99 L538.85,390.67 L539.10,390.41 L539.35,391.17 L539.60,390.03 L539.85,387.02 L540.10,386.95 L540.35,383.84 L540.60,390.09 L540.85,389.87 L541.10,391.97 L541.35,385.39 L541.60,390.94 L541.85,388.62 L542.10,388.24 L542.35,389.36 L542.60,387.14 L542.85,390.31 L543.10,388.96 L543.35,390.48 L543.60,392.11 L543.85,390.32 L544.10,392.31 L544.35,388.35 L544.60,387.63 L544.85,386.45 L545.10,387.11 L545.35,386.32 L545.60,387.29 L545.85,384.04 L546.10,383.17 L546.35,385.45 L546.60,389.12 L546.85,387.60 L547.10,382.07 L547.35,387.02 L547.60,386.47 L547.85,387.48 L548.10,390.23 L548.35,388.93 L548.60,388.99 L548.85,386.04 L549.10,389.63 L549.35,388.50 L549.60,390.89 L549.85,392.85 L550.10,388.51 L550.35,389.68 L550.60,391.25 L550.85,386.01 L551.10,387.77 L551.35,385.89 L551.60,387.61 L551.85,388.74 L552.10,388.27 L552.35,392.34 L552.60,391.23 L552.85,390.31 L553.10,392.86 L553.35,395.14 L553.60,390.52 L553.85,391.30 L554.10,392.73 L554.35,394.55 L554.60,387.73 L554.85,391.82 L555.10,397.47 L555.35,390.98 L555.60,394.46 L555.85,394.90 L556.10,390.43 L556.35,393.37 L556.60,387.97 L556.85,383.73 L557.10,386.52 L557.35,391.01 L557.60,394.01 L557.85,389.76 L558.10,385.30 L558.35,389.49 L558.60,385.54 L558.85,390.72 L559.10,394.61 L559.35,389.17 L559.60,389.41 L559.85,390.34 L560.10,390.48 L560.35,392.37 L560.60,391.57 L560.85,392.24 L561.10,388.13 L561.35,393.06 L561.60,391.90 L561.85,388.66 L562.10,389.72 L562.35,389.76 L562.60,387.62 L562.85,396.01 L563.10,393.17 L563.35,391.88 L563.60,394.13 L563.85,390.94 L564.10,390.71 L564.35,393.85 L564.60,388.55 L564.85,388.84 L565.10,387.09 L565.35,389.46 L565.60,393.57 L565.85,390.45 L566.10,395.44 L566.35,391.36 L566.60,393.53 L566.85,391.23 L567.10,395.78 L567.35,399.26 L567.60,394.74 L567.85,392.48 L568.10,396.28 L568.35,398.48 L568.60,395.47 L568.85,401.98 L569.10,395.34 L569.35,399.94 L569.60,402.35 L569.85,400.40 L570.10,403.10 L570.35,401.84 L570.60,400.22 L570.85,400.32 L571.10,405.43 L571.35,397.53 L571.60,401.76 L571.85,399.30 L572.10,399.90 L572.35,402.63 L572.60,398.95 L572.85,397.67 L573.10,404.08 L573.35,404.79 L573.60,402.82 L573.85,401.57 L574.10,402.10 L574.35,405.61 L574.60,406.37 L574.85,406.83 L575.10,407.30 L575.35,405.67 L575.60,406.55 L575.85,404.48 L576.10,404.45 L576.35,402.15 L576.60,402.20 L576.85,398.51 L577.10,399.04 L577.35,396.14 L577.60,399.03 L577.85,395.90 L578.10,395.19 L578.35,394.88 L578.60,394.18 L578.85,393.82 L579.10,397.11 L579.35,397.14 L579.60,398.33 L579.85,395.68 L580.10,398.17 L580.35,394.31 L580.60,401.14 L580.85,398.02 L581.10,403.65 L581.35,403.24 L581.60,406.83 L581.85,404.08 L582.10,402.09 L582.35,408.33 L582.60,406.73 L582.85,406.57 L583.10,407.98 L583.35,404.25 L583.60,399.50 L583.85,403.88 L584.10,403.08 L584.35,405.54 L584.60,403.36 L584.85,405.31 L585.10,402.37 L585.35,406.48 L585.60,405.54 L585.85,402.89 L586.10,407.30 L586.35,407.73 L586.60,405.85 L586.85,403.35 L587.10,405.08 L587.35,404.24 L587.60,402.68 L587.85,402.90 L588.10,402.17 L588.35,399.07 L588.60,401.34 L588.85,398.91 L589.10,400.78 L589.35,400.30 L589.60,402.38 L589.85,399.71 L590.10,401.06 L590.35,397.93 L590.60,403.36 L590.85,405.55 L591.10,401.24 L591.35,402.90 L591.60,403.73 L591.85,402.64 L592.10,405.49 L592.35,403.40 L592.60,405.04 L592.85,405.88 L593.10,405.52 L593.35,404.54 L593.60,409.81 L593.85,408.39 L594.10,406.89 L594.35,406.22 L594.60,408.25 L594.85,406.52 L595.10,409.40 L595.35,408.27 L595.60,408.83 L595.85,409.89 L596.10,408.03 L596.35,408.65 L596.60,409.58" stroke="#000" stroke-width="2.0"/>
<path d="M49.60,444.82 L50.10,444.84 L50.60,444.87 L51.10,444.52 L51.60,444.98 L52.10,444.45 L52.60,444.84 L53.10,444.62 L53.60,444.51 L54.10,444.42 L54.60,444.32 L55.10,444.23 L55.60,444.38 L56.10,444.83 L56.60,444.58 L57.10,444.72 L57.60,444.68 L58.10,444.74 L58.60,444.79 L59.10,444.89 L59.60,444.78 L60.10,444.74 L60.60,444.65 L61.10,444.73 L61.60,444.44 L62.10,444.64 L62.60,444.82 L63.10,444.42 L63.60,444.50 L64.10,444.97 L64.60,444.29 L65.10,444.18 L65.60,444.42 L66.10,444.89 L66.60,445.04 L67.10,444.62 L67.60,445.09 L68.10,445.14 L68.60,445.14 L69.10,444.95 L69.60,445.42 L70.10,444.98 L70.60,445.01 L71.10,444.78 L71.60,444.90 L72.10,444.63 L72.60,444.11 L73.10,444.17 L73.60,444.33 L74.10,443.87 L74.60,443.99 L75.10,444.08 L75.60,443.77 L76.10,443.86 L76.60,443.82 L77.10,444.24 L77.60,444.18 L78.10,444.53 L78.60,444.49 L79.10,444.66 L79.60,444.63 L80.10,444.82 L80.60,444.63 L81.10,444.37 L81.60,444.57 L82.10,444.32 L82.60,444.28 L83.10,443.61 L83.60,443.33 L84.10,443.06 L84.60,442.63 L85.10,443.16 L85.60,443.64 L86.10,443.60 L86.60,443.47 L87.10,444.09 L87.60,443.85 L88.10,443.73 L88.60,443.50 L89.10,443.32 L89.60,443.21 L90.10,442.66 L90.60,442.78 L91.10,442.62 L91.60,442.84 L92.10,442.41 L92.60,442.80 L93.10,442.56 L93.60,442.68 L94.10,442.26 L94.60,442.55 L95.10,442.57 L95.60,442.44 L96.10,442.90 L96.60,443.15 L97.10,443.33 L97.60,443.57 L98.10,443.57 L98.60,443.76 L99.10,443.83 L99.60,443.52 L100.10,443.24 L100.60,443.54 L101.10,443.20 L101.60,443.22 L102.10,443.20 L102.60,443.24 L103.10,443.56 L103.60,443.52 L104.10,443.76 L104.60,443.63 L105.10,443.68 L105.60,443.93 L106.10,444.33 L106.60,444.04 L107.10,444.34 L107.60,444.12 L108.10,444.17 L108.60,444.05 L109.10,444.19 L109.60,444.50 L110.10,444.36 L110.60,443.98 L111.10,443.91 L111.60,444.12 L112.10,443.77 L112.60,444.02 L113.10,443.79 L113.60,444.15 L114.10,444.42 L114.60,444.42 L115.10,444.42 L115.60,444.47 L116.10,444.50 L116.60,444.56 L117.10,444.81 L117.60,444.84 L118.10,444.71 L118.60,444.40 L119.10,444.45 L119.60,444.52 L120.10,444.42 L120.60,444.17 L121.10,444.52 L121.60,444.90 L122.10,444.32 L122.60,444.55 L123.10,444.77 L123.60,444.33 L124.10,444.19 L124.60,444.15 L125.10,444.12 L125.60,443.91 L126.10,444.15 L126.60,443.73 L127.10,444.21 L127.60,444.22 L128.10,444.16 L128.60,444.26 L129.10,444.19 L129.60,444.37 L130.10,444.01 L130.60,443.99 L131.10,443.67 L131.60,443.63 L132.10,443.73 L132.60,443.52 L133.10,443.68 L133.60,443.68 L134.10,443.90 L134.60,444.08 L135.10,444.28 L135.60,443.88 L136.10,444.24 L136.60,444.50 L137.10,444.69 L137.60,444.79 L138.10,444.42 L138.60,444.63 L139.10,444.84 L139.60,444.90 L140.10,444.79 L140.60,444.79 L141.10,444.83 L141.60,444.73 L142.10,444.97 L142.60,445.16 L143.10,445.03 L143.60,445.31 L144.10,444.68 L144.60,445.11 L145.10,445.46 L145.60,445.34 L146.10,445.43 L146.60,445.17 L147.10,444.89 L147.60,444.91 L148.10,445.16 L148.60,444.54 L149.10,444.64 L149.60,444.48 L150.10,444.65 L150.60,444.65 L151.10,444.79 L151.60,444.52 L152.10,444.89 L152.60,444.66 L153.10,444.45 L153.60,444.35 L154.10,444.28 L154.60,444.57 L155.10,444.90 L155.60,444.60 L156.10,444.52 L156.60,444.76 L157.10,444.78 L157.60,444.82 L158.10,444.74 L158.60,445.07 L159.10,445.31 L159.60,445.21 L160.10,445.08 L160.60,444.86 L161.10,444.81 L161.60,444.82 L162.10,444.59 L162.60,444.60 L163.10,444.48 L163.60,444.75 L164.10,444.47 L164.60,444.82 L165.10,444.95 L165.60,445.04 L166.10,445.09 L166.60,444.93 L167.10,444.89 L167.60,444.88 L168.10,444.85 L168.60,444.73 L169.10,444.91 L169.60,445.01 L170.10,445.15 L170.60,445.58 L171.10,445.63 L171.60,445.99 L172.10,446.34 L172.60,446.47 L173.10,446.22 L173.60,446.34 L174.10,446.14 L174.60,446.40 L175.10,446.19 L175.60,446.01 L176.10,445.70 L176.60,445.54 L177.10,445.47 L177.60,445.14 L178.10,444.86 L178.60,444.78 L179.10,444.32 L179.60,444.13 L180.10,444.33 L180.60,444.41 L181.10,444.73 L181.60,444.75 L182.10,444.98 L182.60,444.78 L183.10,445.39 L183.60,445.24 L184.10,445.05 L184.60,445.27 L185.10,445.47 L185.60,445.50 L186.10,445.49 L186.60,445.75 L187.10,445.95 L187.60,445.74 L188.10,445.78 L188.60,445.93 L189.10,446.12 L189.60,446.08 L190.10,445.72 L190.60,445.79 L191.10,445.59 L191.60,445.36 L192.10,445.24 L192.60,445.29 L193.10,445.46 L193.60,445.72 L194.10,445.68 L194.60,445.36 L195.10,445.38 L195.60,445.71 L196.10,445.61 L196.60,445.43 L197.10,445.68 L197.60,445.78 L198.10,445.68 L198.60,445.57 L199.10,445.77 L199.60,445.51 L200.10,445.48 L200.60,445.42 L201.10,445.84 L201.60,445.85 L202.10,445.50 L202.60,445.63 L203.10,436.00 L203.60,445.85 L204.10,445.98 L204.60,445.95 L205.10,445.82 L205.60,445.65 L206.10,445.41 L206.60,444.95 L207.10,445.16 L207.60,444.90 L208.10,444.98 L208.60,445.00 L209.10,444.97 L209.60,445.22 L210.10,445.57 L210.60,445.73 L211.10,445.75 L211.60,445.92 L212.10,446.24 L212.60,446.24 L213.10,446.25 L213.60,446.12 L214.10,446.16 L214.60,445.92 L215.10,446.16 L215.60,445.55 L216.10,445.41 L216.60,445.74 L217.10,445.48 L217.60,445.42 L218.10,445.68 L218.60,445.32 L219.10,445.80 L219.60,445.77 L220.10,445.85 L220.60,445.74 L221.10,446.15 L221.60,446.07 L222.10,446.08 L222.60,446.16 L223.10,445.93 L223.60,445.95 L224.10,445.62 L224.60,445.56 L225.10,445.67 L225.60,445.55 L226.10,445.58 L226.60,445.30 L227.10,445.33 L227.60,445.20 L228.10,445.32 L228.60,445.39 L229.10,445.45 L229.60,445.40 L230.10,445.21 L230.60,445.37 L231.10,445.19 L231.60,445.05 L232.10,445.37 L232.60,445.35 L233.10,445.45 L233.60,445.47 L234.10,445.18 L234.60,445.28 L235.10,445.48 L235.60,445.58 L236.10,445.72 L236.60,445.54 L237.10,445.78 L237.60,445.97 L238.10,446.21 L238.60,445.76 L239.10,446.23 L239.60,445.95 L240.10,445.78 L240.60,446.19 L241.10,445.79 L241.60,445.73 L242.10,445.96 L242.60,445.95 L243.10,445.74 L243.60,445.57 L244.10,445.40 L244.60,445.60 L245.10,445.19 L245.60,445.32 L246.10,445.73 L246.60,445.74 L247.10,445.96 L247.60,446.00 L248.10,445.94 L248.60,446.35 L249.10,446.13 L249.60,446.59 L250.10,446.72 L250.60,446.34 L251.10,446.57 L251.60,446.32 L252.10,446.18 L252.60,445.80 L253.10,446.00 L253.60,441.00 L254.10,445.74 L254.60,445.97 L255.10,446.02 L255.60,445.97 L256.10,446.44 L256.60,446.32 L257.10,446.30 L257.60,446.36 L258.10,445.98 L258.60,446.44 L259.10,445.76 L259.60,445.54 L260.10,445.73 L260.60,445.66 L261.10,445.46 L261.60,445.51 L262.10,445.84 L262.60,445.84 L263.10,445.93 L263.60,446.06 L264.10,445.85 L264.60,446.12 L265.10,445.89 L265.60,445.92 L266.10,445.59 L266.60,445.77 L267.10,445.65 L267.60,445.98 L268.10,445.64 L268.60,445.96 L269.10,445.91 L269.60,446.11 L270.10,445.92 L270.60,445.91 L271.10,445.41 L271.60,445.44 L272.10,445.67 L272.60,445.50 L273.10,445.52 L273.60,445.40 L274.10,445.64 L274.60,445.59 L275.10,445.74 L275.60,446.01 L276.10,446.02 L276.60,445.78 L277.10,445.82 L277.60,445.81 L278.10,445.73 L278.60,445.73 L279.10,445.61 L279.60,445.85 L280.10,445.63 L280.60,445.68 L281.10,446.06 L281.60,446.22 L282.10,446.31 L282.60,446.17 L283.10,446.10 L283.60,446.31 L284.10,446.41 L284.60,446.15 L285.10,445.98 L285.60,445.67 L286.10,445.54 L286.60,445.92 L287.10,445.37 L287.60,445.45 L288.10,445.54 L288.60,445.71 L289.10,445.63 L289.60,446.06 L290.10,446.21 L290.60,446.25 L291.10,446.21 L291.60,446.23 L292.10,445.93 L292.60,446.20 L293.10,445.92 L293.60,445.71 L294.10,445.84 L294.60,445.89 L295.10,445.84 L295.60,445.84 L296.10,445.89 L296.60,445.61 L297.10,445.71 L297.60,445.75 L298.10,445.57 L298.60,446.02 L299.10,445.90 L299.60,446.06 L300.10,446.14 L300.60,446.03 L301.10,446.31 L301.60,446.37 L302.10,446.29 L302.60,445.87 L303.10,446.48 L303.60,446.25 L304.10,446.14 L304.60,446.11 L305.10,445.99 L305.60,446.05 L306.10,446.15 L306.60,445.85 L307.10,445.97 L307.60,445.78 L308.10,445.74 L308.60,445.65 L309.10,445.68 L309.60,445.75 L310.10,445.60 L310.60,445.76 L311.10,445.91 L311.60,445.58 L312.10,445.99 L312.60,445.91 L313.10,445.99 L313.60,446.19 L314.10,446.06 L314.60,446.05 L315.10,446.40 L315.60,446.49 L316.10,446.55 L316.60,447.03 L317.10,446.59 L317.60,446.56 L318.10,446.76 L318.60,446.57 L319.10,446.70 L319.60,446.46 L320.10,446.33 L320.60,446.29 L321.10,446.04 L321.60,445.76 L322.10,443.70 L322.60,445.96 L323.10,445.83 L323.60,445.89 L324.10,445.96 L324.60,445.83 L325.10,445.69 L325.60,445.61 L326.10,445.82 L326.60,446.03 L327.10,446.03 L327.60,445.95 L328.10,445.65 L328.60,445.78 L329.10,445.73 L329.60,445.77 L330.10,445.45 L330.60,445.61 L331.10,445.82 L331.60,445.90 L332.10,445.83 L332.60,445.96 L333.10,445.79 L333.60,445.93 L334.10,445.67 L334.60,445.78 L335.10,445.52 L335.60,445.92 L336.10,445.87 L336.60,446.12 L337.10,446.01 L337.60,446.19 L338.10,445.90 L338.60,445.72 L339.10,445.90 L339.60,445.92 L340.10,445.71 L340.60,445.64 L341.10,445.97 L341.60,446.08 L342.10,446.14 L342.60,446.17 L343.10,446.30 L343.60,446.64 L344.10,446.58 L344.60,446.34 L345.10,446.24 L345.60,446.36 L346.10,446.25 L346.60,445.98 L347.10,445.92 L347.60,446.17 L348.10,446.03 L348.60,446.24 L349.10,446.00 L349.60,446.03 L350.10,445.93 L350.60,446.16 L351.10,446.11 L351.60,445.93 L352.10,446.18 L352.60,446.09 L353.10,446.12 L353.60,446.31 L354.10,446.20 L354.60,446.06 L355.10,445.84 L355.60,445.60 L356.10,445.56 L356.60,445.49 L357.10,445.64 L357.60,445.32 L358.10,445.38 L358.60,445.51 L359.10,445.64 L359.60,445.81 L360.10,445.90 L360.60,445.73 L361.10,446.04 L361.60,445.90 L362.10,445.75 L362.60,445.79 L363.10,445.95 L363.60,446.04 L364.10,446.24 L364.60,446.06 L365.10,446.12 L365.60,446.11 L366.10,446.28 L366.60,446.06 L367.10,446.33 L367.60,446.12 L368.10,446.17 L368.60,446.22 L369.10,446.17 L369.60,446.49 L370.10,445.98 L370.60,445.82 L371.10,445.91 L371.60,446.18 L372.10,445.88 L372.60,446.12 L373.10,445.90 L373.60,446.01 L374.10,445.70 L374.60,446.07 L375.10,446.13 L375.60,445.89 L376.10,446.24 L376.60,446.46 L377.10,446.13 L377.60,446.01 L378.10,446.03 L378.60,446.03 L379.10,446.14 L379.60,446.19 L380.10,445.87 L380.60,445.91 L381.10,445.80 L381.60,445.98 L382.10,446.16 L382.60,445.87 L383.10,446.26 L383.60,446.32 L384.10,446.40 L384.60,446.21 L385.10,446.13 L385.60,446.35 L386.10,446.28 L386.60,446.20 L387.10,446.34 L387.60,446.24 L388.10,446.65 L388.60,446.43 L389.10,446.36 L389.60,445.99 L390.10,446.20 L390.60,445.86 L391.10,445.93 L391.60,445.63 L392.10,445.84 L392.60,445.58 L393.10,445.88 L393.60,446.00 L394.10,445.99 L394.60,446.31 L395.10,446.31 L395.60,446.35 L396.10,446.47 L396.60,446.46 L397.10,446.17 L397.60,446.29 L398.10,446.21 L398.60,446.17 L399.10,446.29 L399.60,445.89 L400.10,446.28 L400.60,446.15 L401.10,446.06 L401.60,446.10 L402.10,446.28 L402.60,446.34 L403.10,446.32 L403.60,446.10 L404.10,446.10 L404.60,446.32 L405.10,446.42 L405.60,446.28 L406.10,446.51 L406.60,446.50 L407.10,446.48 L407.60,446.28 L408.10,446.47 L408.60,446.33 L409.10,446.27 L409.60,446.04 L410.10,445.74 L410.60,445.90 L411.10,445.94 L411.60,445.82 L412.10,445.75 L412.60,446.06 L413.10,446.18 L413.60,446.04 L414.10,446.20 L414.60,446.15 L415.10,446.38 L415.60,446.33 L416.10,446.47 L416.60,446.06 L417.10,446.30 L417.60,446.05 L418.10,446.08 L418.60,445.87 L419.10,446.03 L419.60,445.95 L420.10,446.01 L420.60,446.05 L421.10,446.08 L421.60,446.10 L422.10,445.95 L422.60,445.80 L423.10,446.04 L423.60,445.93 L424.10,445.89 L424.60,446.22 L425.10,446.17 L425.60,446.31 L426.10,446.08 L426.60,446.28 L427.10,446.64 L427.60,446.41 L428.10,446.34 L428.60,446.09 L429.10,446.06 L429.60,446.05 L430.10,445.97 L430.60,446.00 L431.10,445.87 L431.60,446.12 L432.10,446.29 L432.60,446.54 L433.10,446.60 L433.60,446.54 L434.10,446.40 L434.60,446.30 L435.10,446.31 L435.60,445.99 L436.10,446.05 L436.60,446.00 L437.10,446.00 L437.60,446.25 L438.10,446.01 L438.60,446.11 L439.10,446.16 L439.60,445.98 L440.10,445.89 L440.60,445.75 L441.10,446.17 L441.60,445.90 L442.10,445.86 L442.60,446.31 L443.10,446.00 L443.60,446.01 L444.10,446.01 L444.60,445.87 L445.10,445.67 L445.60,445.90 L446.10,445.89 L446.60,445.90 L447.10,445.81 L447.60,445.80 L448.10,445.84 L448.60,446.13 L449.10,446.15 L449.60,446.03 L450.10,446.14 L450.60,445.93 L451.10,446.10 L451.60,445.85 L452.10,445.92 L452.60,445.86 L453.10,445.52 L453.60,445.90 L454.10,445.78 L454.60,445.65 L455.10,445.61 L455.60,445.66 L456.10,445.63 L456.60,445.69 L457.10,445.66 L457.60,445.73 L458.10,445.71 L458.60,445.54 L459.10,445.59 L459.60,445.87 L460.10,445.91 L460.60,445.91 L461.10,445.80 L461.60,445.92 L462.10,445.95 L462.60,446.17 L463.10,446.00 L463.60,445.93 L464.10,445.98 L464.60,446.07 L465.10,446.16 L465.60,445.83 L466.10,445.98 L466.60,445.75 L467.10,445.74 L467.60,445.71 L468.10,445.96 L468.60,445.87 L469.10,446.12 L469.60,446.03 L470.10,446.38 L470.60,446.26 L471.10,446.29 L471.60,446.13 L472.10,446.45 L472.60,446.20 L473.10,446.01 L473.60,445.83 L474.10,445.56 L474.60,445.40 L475.10,445.45 L475.60,445.17 L476.10,445.27 L476.60,445.77 L477.10,445.29 L477.60,445.24 L478.10,445.46 L478.60,444.93 L479.10,445.32 L479.60,444.80 L480.10,444.33 L480.60,444.49 L481.10,444.33 L481.60,444.73 L482.10,444.57 L482.60,445.02 L483.10,444.53 L483.60,445.04 L484.10,445.40 L484.60,445.46 L485.10,445.41 L485.60,445.60 L486.10,445.57 L486.60,445.30 L487.10,445.23 L487.60,445.26 L488.10,444.96 L488.60,444.22 L489.10,444.47 L489.60,444.78 L490.10,445.23 L490.60,445.20 L491.10,445.45 L491.60,445.60 L492.10,445.51 L492.60,445.14 L493.10,445.59 L493.60,445.06 L494.10,445.12 L494.60,445.39 L495.10,445.03 L495.60,446.11 L496.10,446.37 L496.60,445.78 L497.10,445.73 L497.60,445.28 L498.10,445.91 L498.60,445.63 L499.10,445.58 L499.60,445.65 L500.10,446.09 L500.60,446.14 L501.10,446.17 L501.60,445.95 L502.10,445.49 L502.60,446.04 L503.10,445.64 L503.60,445.10 L504.10,444.80 L504.60,444.87 L505.10,445.37 L505.60,445.42 L506.10,445.44 L506.60,445.68 L507.10,445.19 L507.60,445.56 L508.10,445.11 L508.60,444.75 L509.10,444.94 L509.60,444.76 L510.10,444.36 L510.60,444.83 L511.10,443.85 L511.60,444.25 L512.10,444.30 L512.60,444.10 L513.10,444.38 L513.60,444.77 L514.10,444.18 L514.60,444.14 L515.10,444.27 L515.60,444.44 L516.10,444.63 L516.60,444.62 L517.10,444.39 L517.60,445.16 L518.10,445.24 L518.60,445.42 L519.10,444.79 L519.60,444.75 L520.10,444.95 L520.60,444.95 L521.10,445.01 L521.60,444.72 L522.10,444.74 L522.60,445.15 L523.10,444.58 L523.60,444.88 L524.10,445.25 L524.60,445.49 L525.10,445.45 L525.60,445.88 L526.10,445.66 L526.60,445.86 L527.10,445.97 L527.60,445.82 L528.10,445.48 L528.60,445.70 L529.10,445.65 L529.60,445.40 L530.10,445.69 L530.60,445.33 L531.10,445.08 L531.60,445.50 L532.10,445.39 L532.60,445.96 L533.10,445.39 L533.60,445.83 L534.10,446.45 L534.60,446.67 L535.10,446.73 L535.60,447.11 L536.10,446.61 L536.60,446.39 L537.10,446.51 L537.60,446.00 L538.10,445.97 L538.60,446.04 L539.10,443.20 L539.60,445.59 L540.10,445.44 L540.60,445.65 L541.10,443.30 L541.60,445.60 L542.10,445.37 L542.60,445.56 L543.10,445.02 L543.60,444.99 L544.10,444.91 L544.60,445.36 L545.10,445.13 L545.60,445.08 L546.10,444.84 L546.60,445.13 L547.10,445.42 L547.60,444.68 L548.10,445.21 L548.60,445.47 L549.10,445.69 L549.60,446.06 L550.10,446.03 L550.60,446.18 L551.10,446.18 L551.60,446.39 L552.10,445.94 L552.60,446.04 L553.10,445.88 L553.60,445.98 L554.10,445.90 L554.60,445.75 L555.10,446.16 L555.60,446.29 L556.10,445.64 L556.60,445.61 L557.10,445.29 L557.60,444.45 L558.10,445.19 L558.60,444.90 L559.10,444.75 L559.60,444.70 L560.10,444.27 L560.60,443.92 L561.10,444.55 L561.60,444.63 L562.10,444.60 L562.60,444.61 L563.10,445.01 L563.60,444.99 L564.10,444.81 L564.60,444.69 L565.10,445.40 L565.60,445.10 L566.10,445.03 L566.60,444.83 L567.10,444.95 L567.60,444.82 L568.10,445.57 L568.60,445.80 L569.10,445.72 L569.60,445.79 L570.10,445.86 L570.60,446.00 L571.10,445.35 L571.60,445.45 L572.10,445.92 L572.60,445.68 L573.10,445.64 L573.60,445.18 L574.10,445.74 L574.60,445.36 L575.10,445.28 L575.60,445.16 L576.10,445.50 L576.60,445.59 L577.10,445.63 L577.60,446.15 L578.10,446.09 L578.60,445.79 L579.10,445.58 L579.60,445.52 L580.10,445.60 L580.60,444.72 L581.10,445.40 L581.60,445.19 L582.10,445.72 L582.60,445.27 L583.10,445.12 L583.60,445.19 L584.10,445.02 L584.60,444.98 L585.10,445.10 L585.60,444.55 L586.10,444.99 L586.60,444.54 L587.10,444.77 L587.60,444.80 L588.10,445.20 L588.60,445.49 L589.10,445.53 L589.60,445.15 L590.10,445.30 L590.60,445.46 L591.10,445.55 L591.60,445.81 L592.10,445.65 L592.60,445.37 L593.10,445.68 L593.60,445.22 L594.10,445.26 L594.60,444.64 L595.10,444.71 L595.60,444.63 L596.10,444.65 L596.60,444.45" stroke="#000" stroke-width="1.4"/>
<path d="M49.00,393.40 C57.50,393.67 83.17,394.48 100.00,395.00 C116.83,395.52 133.33,395.97 150.00,396.50 C166.67,397.03 183.33,397.67 200.00,398.20 C216.67,398.73 231.67,399.15 250.00,399.70 C268.33,400.25 290.50,400.92 310.00,401.50 C329.50,402.08 348.67,402.72 367.00,403.20 C385.33,403.68 401.17,404.00 420.00,404.40 C438.83,404.80 460.00,405.18 480.00,405.60 C500.00,406.02 520.50,406.47 540.00,406.90 C559.50,407.33 587.50,407.98 597.00,408.20" stroke="#f5a000" stroke-width="2.5"/>
<path d="M49.00,390.00 C49.35,389.83 50.27,389.75 51.10,389.00 C51.93,388.25 53.05,386.63 54.00,385.50 C54.95,384.37 55.88,383.37 56.80,382.20 C57.72,381.03 58.55,379.83 59.50,378.50 C60.45,377.17 61.58,375.53 62.50,374.20 C63.42,372.87 64.23,371.63 65.00,370.50 C65.77,369.37 66.35,368.57 67.10,367.40 C67.85,366.23 68.73,364.83 69.50,363.50 C70.27,362.17 70.85,361.87 71.70,359.40 C72.55,356.93 73.62,352.10 74.60,348.70 C75.58,345.30 76.58,343.18 77.60,339.00 C78.62,334.82 79.70,328.58 80.70,323.60 C81.70,318.62 82.75,313.95 83.60,309.10 C84.45,304.25 85.12,299.18 85.80,294.50 C86.48,289.82 87.10,284.43 87.70,281.00 C88.30,277.57 88.85,273.10 89.40,273.90 C89.95,274.70 90.30,278.85 91.00,285.80 C91.70,292.75 92.78,308.82 93.60,315.60 C94.42,322.38 95.00,323.90 95.90,326.50 C96.80,329.10 97.97,330.03 99.00,331.20 C100.03,332.37 101.18,332.60 102.10,333.50 C103.02,334.40 103.72,334.65 104.50,336.60 C105.28,338.55 106.03,341.95 106.80,345.20 C107.57,348.45 108.32,352.73 109.10,356.10 C109.88,359.47 110.72,362.55 111.50,365.40 C112.28,368.25 112.85,371.22 113.80,373.20 C114.75,375.18 116.02,376.20 117.20,377.30 C118.38,378.40 119.67,378.35 120.90,379.80 C122.13,381.25 123.35,383.73 124.60,386.00 C125.85,388.27 126.95,391.75 128.40,393.40 C129.85,395.05 131.65,395.60 133.30,395.90 C134.95,396.20 136.63,395.90 138.30,395.20 C139.97,394.50 142.18,392.62 143.30,391.70 C144.42,390.78 143.97,390.23 145.00,389.70 C146.03,389.17 148.05,387.88 149.50,388.50 C150.95,389.12 152.17,392.03 153.70,393.40 C155.23,394.77 156.83,396.28 158.70,396.70 C160.57,397.12 163.02,396.92 164.90,395.90 C166.78,394.88 168.33,390.88 170.00,390.60 C171.67,390.32 172.85,393.60 174.90,394.20 C176.95,394.80 179.82,394.42 182.30,394.20 C184.78,393.98 187.52,393.65 189.80,392.90 C192.08,392.15 193.93,391.48 196.00,389.70 C198.07,387.92 200.33,384.18 202.20,382.20 C204.07,380.22 205.75,378.70 207.20,377.80 C208.65,376.90 209.45,376.48 210.90,376.80 C212.35,377.12 214.23,377.50 215.90,379.70 C217.57,381.90 219.23,387.62 220.90,390.00 C222.57,392.38 223.62,392.75 225.90,394.00 C228.18,395.25 231.48,396.70 234.60,397.50 C237.72,398.30 242.03,398.62 244.60,398.80 C247.17,398.98 247.85,398.80 250.00,398.60 C252.15,398.40 255.02,398.03 257.50,397.60 C259.98,397.17 262.42,396.63 264.90,396.00 C267.38,395.37 269.90,394.72 272.40,393.80 C274.90,392.88 277.38,391.78 279.90,390.50 C282.42,389.22 285.40,387.67 287.50,386.10 C289.60,384.53 290.85,383.17 292.50,381.10 C294.15,379.03 295.75,376.18 297.40,373.70 C299.05,371.22 300.93,368.07 302.40,366.20 C303.87,364.33 305.12,363.33 306.20,362.50 C307.28,361.67 307.97,361.00 308.90,361.20 C309.83,361.40 310.80,362.03 311.80,363.70 C312.80,365.37 313.97,368.50 314.90,371.20 C315.83,373.90 316.57,377.42 317.40,379.90 C318.23,382.38 318.87,384.23 319.90,386.10 C320.93,387.97 321.95,389.75 323.60,391.10 C325.25,392.45 327.07,393.38 329.80,394.20 C332.53,395.02 336.63,395.83 340.00,396.00 C343.37,396.17 346.67,395.37 350.00,395.20 C353.33,395.03 356.67,395.00 360.00,395.00 C363.33,395.00 366.67,395.12 370.00,395.20 C373.33,395.28 376.67,395.28 380.00,395.50 C383.33,395.72 387.50,396.38 390.00,396.50 C392.50,396.62 393.33,395.87 395.00,396.20 C396.67,396.53 397.50,398.20 400.00,398.50 C402.50,398.80 406.67,398.42 410.00,398.00 C413.33,397.58 416.67,396.08 420.00,396.00 C423.33,395.92 426.67,397.25 430.00,397.50 C433.33,397.75 436.67,397.42 440.00,397.50 C443.33,397.58 446.67,397.67 450.00,398.00 C453.33,398.33 456.58,399.53 460.00,399.50 C463.42,399.47 467.18,397.68 470.50,397.80 C473.82,397.92 476.58,400.20 479.90,400.20 C483.22,400.20 486.68,398.38 490.40,397.80 C494.12,397.22 499.27,397.38 502.20,396.70 C505.13,396.02 506.05,394.58 508.00,393.70 C509.95,392.82 511.95,391.68 513.90,391.40 C515.85,391.12 517.85,392.10 519.70,392.00 C521.55,391.90 522.78,391.38 525.00,390.80 C527.22,390.22 530.15,389.52 533.00,388.50 C535.85,387.48 539.37,385.13 542.10,384.70 C544.83,384.27 547.37,385.30 549.40,385.90 C551.43,386.50 552.67,386.98 554.30,388.30 C555.93,389.62 557.57,392.27 559.20,393.80 C560.83,395.33 562.27,396.38 564.10,397.50 C565.93,398.62 567.97,399.68 570.20,400.50 C572.43,401.32 574.87,401.78 577.50,402.40 C580.13,403.02 582.75,403.55 586.00,404.20 C589.25,404.85 595.17,405.95 597.00,406.30" stroke="#ff4500" stroke-width="3"/>
<path d="M49.00,390.50 C49.35,390.45 50.17,390.45 51.10,390.20 C52.03,389.95 53.70,389.53 54.60,389.00 C55.50,388.47 55.93,387.57 56.50,387.00 C57.07,386.43 57.42,386.13 58.00,385.60 C58.58,385.07 59.43,384.37 60.00,383.80 C60.57,383.23 60.87,382.83 61.40,382.20 C61.93,381.57 62.63,380.57 63.20,380.00 C63.77,379.43 64.25,379.38 64.80,378.80 C65.35,378.22 65.93,377.27 66.50,376.50 C67.07,375.73 67.62,374.98 68.20,374.20 C68.78,373.42 69.42,372.57 70.00,371.80 C70.58,371.03 70.95,371.23 71.70,369.60 C72.45,367.97 73.65,365.43 74.50,362.00 C75.35,358.57 76.15,352.83 76.80,349.00 C77.45,345.17 77.87,343.23 78.40,339.00 C78.93,334.77 79.43,328.58 80.00,323.60 C80.57,318.62 81.23,313.95 81.80,309.10 C82.37,304.25 82.87,299.35 83.40,294.50 C83.93,289.65 84.47,283.98 85.00,280.00 C85.53,276.02 86.08,273.08 86.60,270.60 C87.12,268.12 87.48,266.53 88.10,265.10 C88.72,263.67 89.73,261.60 90.30,262.00 C90.87,262.40 91.08,264.00 91.50,267.50 C91.92,271.00 92.33,277.82 92.80,283.00 C93.27,288.18 93.78,293.67 94.30,298.60 C94.82,303.53 95.40,309.03 95.90,312.60 C96.40,316.17 96.78,317.10 97.30,320.00 C97.82,322.90 98.32,328.92 99.00,330.00 C99.68,331.08 100.62,327.60 101.40,326.50 C102.18,325.40 102.72,323.07 103.70,323.40 C104.68,323.73 106.08,325.98 107.30,328.50 C108.52,331.02 110.05,337.83 111.00,338.50 C111.95,339.17 112.40,333.95 113.00,332.50 C113.60,331.05 113.97,329.05 114.60,329.80 C115.23,330.55 116.07,334.22 116.80,337.00 C117.53,339.78 118.27,345.13 119.00,346.50 C119.73,347.87 120.57,344.28 121.20,345.20 C121.83,346.12 122.33,349.58 122.80,352.00 C123.27,354.42 123.42,356.37 124.00,359.70 C124.58,363.03 125.72,369.28 126.30,372.00 C126.88,374.72 126.88,374.28 127.50,376.00 C128.12,377.72 129.17,380.58 130.00,382.30 C130.83,384.02 131.67,385.27 132.50,386.30 C133.33,387.33 133.97,388.02 135.00,388.50 C136.03,388.98 137.47,389.82 138.70,389.20 C139.93,388.58 141.27,386.75 142.40,384.80 C143.53,382.85 144.37,379.68 145.50,377.50 C146.63,375.32 148.12,372.03 149.20,371.70 C150.28,371.37 151.07,373.95 152.00,375.50 C152.93,377.05 153.88,379.17 154.80,381.00 C155.72,382.83 156.67,385.03 157.50,386.50 C158.33,387.97 158.58,388.95 159.80,389.80 C161.02,390.65 163.75,391.62 164.80,391.60 C165.85,391.58 165.25,390.63 166.10,389.70 C166.95,388.77 168.65,386.00 169.90,386.00 C171.15,386.00 171.95,388.33 173.60,389.70 C175.25,391.07 177.52,393.70 179.80,394.20 C182.08,394.70 185.02,392.95 187.30,392.70 C189.58,392.45 191.43,393.40 193.50,392.70 C195.57,392.00 197.83,390.03 199.70,388.50 C201.57,386.97 203.03,385.05 204.70,383.50 C206.37,381.95 208.37,380.03 209.70,379.20 C211.03,378.37 211.67,377.78 212.70,378.50 C213.73,379.22 214.73,381.02 215.90,383.50 C217.07,385.98 218.25,390.88 219.70,393.40 C221.15,395.92 223.22,397.50 224.60,398.60 C225.98,399.70 226.43,399.52 228.00,400.00 C229.57,400.48 231.77,401.17 234.00,401.50 C236.23,401.83 238.83,402.25 241.40,402.00 C243.97,401.75 247.17,400.20 249.40,400.00 C251.63,399.80 252.37,400.38 254.80,400.80 C257.23,401.22 260.88,402.83 264.00,402.50 C267.12,402.17 270.83,399.45 273.50,398.80 C276.17,398.15 277.67,399.05 280.00,398.60 C282.33,398.15 285.42,397.35 287.50,396.10 C289.58,394.85 290.85,392.97 292.50,391.10 C294.15,389.23 295.75,387.18 297.40,384.90 C299.05,382.62 300.93,379.68 302.40,377.40 C303.87,375.12 304.95,372.97 306.20,371.20 C307.45,369.43 308.87,366.80 309.90,366.80 C310.93,366.80 311.68,369.02 312.40,371.20 C313.12,373.38 313.58,377.00 314.20,379.90 C314.82,382.80 315.37,386.12 316.10,388.60 C316.83,391.08 317.57,393.25 318.60,394.80 C319.63,396.35 320.43,397.07 322.30,397.90 C324.17,398.73 327.52,399.07 329.80,399.80 C332.08,400.53 334.30,401.83 336.00,402.30 C337.70,402.77 337.67,402.98 340.00,402.60 C342.33,402.22 346.67,400.60 350.00,400.00 C353.33,399.40 357.00,399.42 360.00,399.00 C363.00,398.58 365.50,397.58 368.00,397.50 C370.50,397.42 372.67,398.17 375.00,398.50 C377.33,398.83 379.67,399.58 382.00,399.50 C384.33,399.42 387.00,398.00 389.00,398.00 C391.00,398.00 392.17,398.57 394.00,399.50 C395.83,400.43 398.00,402.85 400.00,403.60 C402.00,404.35 403.83,404.17 406.00,404.00 C408.17,403.83 410.33,403.27 413.00,402.60 C415.67,401.93 419.17,400.18 422.00,400.00 C424.83,399.82 427.67,401.17 430.00,401.50 C432.33,401.83 433.83,402.33 436.00,402.00 C438.17,401.67 440.67,399.58 443.00,399.50 C445.33,399.42 447.83,401.25 450.00,401.50 C452.17,401.75 454.33,401.15 456.00,401.00 C457.67,400.85 458.55,400.73 460.00,400.60 C461.45,400.47 462.95,400.95 464.70,400.20 C466.45,399.45 468.75,395.92 470.50,396.10 C472.25,396.28 473.63,400.13 475.20,401.30 C476.77,402.47 478.33,403.10 479.90,403.10 C481.47,403.10 482.85,401.88 484.60,401.30 C486.35,400.72 488.45,399.68 490.40,399.60 C492.35,399.52 494.33,400.90 496.30,400.80 C498.27,400.70 500.25,399.88 502.20,399.00 C504.15,398.12 506.05,396.77 508.00,395.50 C509.95,394.23 511.95,392.38 513.90,391.40 C515.85,390.42 518.05,389.60 519.70,389.60 C521.35,389.60 522.63,390.87 523.80,391.40 C524.97,391.93 525.67,392.65 526.70,392.80 C527.73,392.95 528.65,393.15 530.00,392.30 C531.35,391.45 532.78,389.38 534.80,387.70 C536.82,386.02 540.23,382.65 542.10,382.20 C543.97,381.75 544.78,383.98 546.00,385.00 C547.22,386.02 548.40,387.97 549.40,388.30 C550.40,388.63 551.08,387.72 552.00,387.00 C552.92,386.28 553.70,383.78 554.90,384.00 C556.10,384.22 557.67,387.07 559.20,388.30 C560.73,389.53 562.68,389.97 564.10,391.40 C565.52,392.83 566.08,395.38 567.70,396.90 C569.32,398.42 571.75,399.65 573.80,400.50 C575.85,401.35 577.97,401.38 580.00,402.00 C582.03,402.62 583.17,403.45 586.00,404.20 C588.83,404.95 595.17,406.12 597.00,406.50" stroke="#4b0082" stroke-opacity="0.88" stroke-width="4.5"/>
<path d="M85.6,268.5 L86.2,264.0 L88.3,263.7 L89.1,260.3 L92.2,260.3 L92.9,264.5 L93.0,268.5 Z" fill="#4b0082" fill-opacity="0.92" stroke="none"/>
<path d="M49.00,390.50 C49.35,390.45 50.17,390.45 51.10,390.20 C52.03,389.95 53.70,389.53 54.60,389.00 C55.50,388.47 55.93,387.57 56.50,387.00 C57.07,386.43 57.42,386.13 58.00,385.60 C58.58,385.07 59.43,384.37 60.00,383.80 C60.57,383.23 60.87,382.83 61.40,382.20 C61.93,381.57 62.63,380.57 63.20,380.00 C63.77,379.43 64.25,379.38 64.80,378.80 C65.35,378.22 65.93,377.27 66.50,376.50 C67.07,375.73 67.62,374.98 68.20,374.20 C68.78,373.42 69.42,372.57 70.00,371.80 C70.58,371.03 70.95,371.23 71.70,369.60 C72.45,367.97 73.65,365.43 74.50,362.00 C75.35,358.57 76.15,352.83 76.80,349.00 C77.45,345.17 77.87,343.23 78.40,339.00 C78.93,334.77 79.43,328.58 80.00,323.60 C80.57,318.62 81.23,313.95 81.80,309.10 C82.37,304.25 82.87,299.35 83.40,294.50 C83.93,289.65 84.47,283.98 85.00,280.00 C85.53,276.02 86.08,273.08 86.60,270.60 C87.12,268.12 87.48,266.53 88.10,265.10 C88.72,263.67 89.73,261.60 90.30,262.00 C90.87,262.40 91.08,264.00 91.50,267.50 C91.92,271.00 92.33,277.82 92.80,283.00 C93.27,288.18 93.78,293.67 94.30,298.60 C94.82,303.53 95.40,309.03 95.90,312.60 C96.40,316.17 96.78,317.10 97.30,320.00 C97.82,322.90 98.32,328.92 99.00,330.00 C99.68,331.08 100.62,327.60 101.40,326.50 C102.18,325.40 102.72,323.07 103.70,323.40 C104.68,323.73 106.08,325.98 107.30,328.50 C108.52,331.02 110.05,337.83 111.00,338.50 C111.95,339.17 112.40,333.95 113.00,332.50 C113.60,331.05 113.97,329.05 114.60,329.80 C115.23,330.55 116.07,334.22 116.80,337.00 C117.53,339.78 118.27,345.13 119.00,346.50 C119.73,347.87 120.57,344.28 121.20,345.20 C121.83,346.12 122.33,349.58 122.80,352.00 C123.27,354.42 123.42,356.37 124.00,359.70 C124.58,363.03 125.72,369.28 126.30,372.00 C126.88,374.72 126.88,374.28 127.50,376.00 C128.12,377.72 129.17,380.58 130.00,382.30 C130.83,384.02 131.67,385.27 132.50,386.30 C133.33,387.33 133.97,388.02 135.00,388.50 C136.03,388.98 137.47,389.82 138.70,389.20 C139.93,388.58 141.27,386.75 142.40,384.80 C143.53,382.85 144.37,379.68 145.50,377.50 C146.63,375.32 148.12,372.03 149.20,371.70 C150.28,371.37 151.07,373.95 152.00,375.50 C152.93,377.05 153.88,379.17 154.80,381.00 C155.72,382.83 156.67,385.03 157.50,386.50 C158.33,387.97 158.58,388.95 159.80,389.80 C161.02,390.65 163.75,391.62 164.80,391.60 C165.85,391.58 165.25,390.63 166.10,389.70 C166.95,388.77 168.65,386.00 169.90,386.00 C171.15,386.00 171.95,388.33 173.60,389.70 C175.25,391.07 177.52,393.70 179.80,394.20 C182.08,394.70 185.02,392.95 187.30,392.70 C189.58,392.45 191.43,393.40 193.50,392.70 C195.57,392.00 197.83,390.03 199.70,388.50 C201.57,386.97 203.03,385.05 204.70,383.50 C206.37,381.95 208.37,380.03 209.70,379.20 C211.03,378.37 211.67,377.78 212.70,378.50 C213.73,379.22 214.73,381.02 215.90,383.50 C217.07,385.98 218.25,390.88 219.70,393.40 C221.15,395.92 223.22,397.50 224.60,398.60 C225.98,399.70 226.43,399.52 228.00,400.00 C229.57,400.48 231.77,401.17 234.00,401.50 C236.23,401.83 238.83,402.25 241.40,402.00 C243.97,401.75 247.17,400.20 249.40,400.00 C251.63,399.80 252.37,400.38 254.80,400.80 C257.23,401.22 260.88,402.83 264.00,402.50 C267.12,402.17 270.83,399.45 273.50,398.80 C276.17,398.15 277.67,399.05 280.00,398.60 C282.33,398.15 285.42,397.35 287.50,396.10 C289.58,394.85 290.85,392.97 292.50,391.10 C294.15,389.23 295.75,387.18 297.40,384.90 C299.05,382.62 300.93,379.68 302.40,377.40 C303.87,375.12 304.95,372.97 306.20,371.20 C307.45,369.43 308.87,366.80 309.90,366.80 C310.93,366.80 311.68,369.02 312.40,371.20 C313.12,373.38 313.58,377.00 314.20,379.90 C314.82,382.80 315.37,386.12 316.10,388.60 C316.83,391.08 317.57,393.25 318.60,394.80 C319.63,396.35 320.43,397.07 322.30,397.90 C324.17,398.73 327.52,399.07 329.80,399.80 C332.08,400.53 334.30,401.83 336.00,402.30 C337.70,402.77 337.67,402.98 340.00,402.60 C342.33,402.22 346.67,400.60 350.00,400.00 C353.33,399.40 357.00,399.42 360.00,399.00 C363.00,398.58 365.50,397.58 368.00,397.50 C370.50,397.42 372.67,398.17 375.00,398.50 C377.33,398.83 379.67,399.58 382.00,399.50 C384.33,399.42 387.00,398.00 389.00,398.00 C391.00,398.00 392.17,398.57 394.00,399.50 C395.83,400.43 398.00,402.85 400.00,403.60 C402.00,404.35 403.83,404.17 406.00,404.00 C408.17,403.83 410.33,403.27 413.00,402.60 C415.67,401.93 419.17,400.18 422.00,400.00 C424.83,399.82 427.67,401.17 430.00,401.50 C432.33,401.83 433.83,402.33 436.00,402.00 C438.17,401.67 440.67,399.58 443.00,399.50 C445.33,399.42 447.83,401.25 450.00,401.50 C452.17,401.75 454.33,401.15 456.00,401.00 C457.67,400.85 458.55,400.73 460.00,400.60 C461.45,400.47 462.95,400.95 464.70,400.20 C466.45,399.45 468.75,395.92 470.50,396.10 C472.25,396.28 473.63,400.13 475.20,401.30 C476.77,402.47 478.33,403.10 479.90,403.10 C481.47,403.10 482.85,401.88 484.60,401.30 C486.35,400.72 488.45,399.68 490.40,399.60 C492.35,399.52 494.33,400.90 496.30,400.80 C498.27,400.70 500.25,399.88 502.20,399.00 C504.15,398.12 506.05,396.77 508.00,395.50 C509.95,394.23 511.95,392.38 513.90,391.40 C515.85,390.42 518.05,389.60 519.70,389.60 C521.35,389.60 522.63,390.87 523.80,391.40 C524.97,391.93 525.67,392.65 526.70,392.80 C527.73,392.95 528.65,393.15 530.00,392.30 C531.35,391.45 532.78,389.38 534.80,387.70 C536.82,386.02 540.23,382.65 542.10,382.20 C543.97,381.75 544.78,383.98 546.00,385.00 C547.22,386.02 548.40,387.97 549.40,388.30 C550.40,388.63 551.08,387.72 552.00,387.00 C552.92,386.28 553.70,383.78 554.90,384.00 C556.10,384.22 557.67,387.07 559.20,388.30 C560.73,389.53 562.68,389.97 564.10,391.40 C565.52,392.83 566.08,395.38 567.70,396.90 C569.32,398.42 571.75,399.65 573.80,400.50 C575.85,401.35 577.97,401.38 580.00,402.00 C582.03,402.62 583.17,403.45 586.00,404.20 C588.83,404.95 595.17,406.12 597.00,406.50" stroke="#ffc0cb" stroke-opacity="0.85" stroke-width="1.6"/>
</g>
<g stroke="#000" fill="none">
<rect x="50.6" y="3.5" width="545.1" height="222.7" stroke-width="1.6"/>
<line x1="80.40" y1="226.20" x2="80.40" y2="220.70" stroke-width="1.5"/>
<line x1="80.40" y1="3.50" x2="80.40" y2="9.00" stroke-width="1.5"/>
<line x1="146.91" y1="226.20" x2="146.91" y2="220.70" stroke-width="1.5"/>
<line x1="146.91" y1="3.50" x2="146.91" y2="9.00" stroke-width="1.5"/>
<line x1="213.42" y1="226.20" x2="213.42" y2="220.70" stroke-width="1.5"/>
<line x1="213.42" y1="3.50" x2="213.42" y2="9.00" stroke-width="1.5"/>
<line x1="279.93" y1="226.20" x2="279.93" y2="220.70" stroke-width="1.5"/>
<line x1="279.93" y1="3.50" x2="279.93" y2="9.00" stroke-width="1.5"/>
<line x1="346.44" y1="226.20" x2="346.44" y2="220.70" stroke-width="1.5"/>
<line x1="346.44" y1="3.50" x2="346.44" y2="9.00" stroke-width="1.5"/>
<line x1="412.95" y1="226.20" x2="412.95" y2="220.70" stroke-width="1.5"/>
<line x1="412.95" y1="3.50" x2="412.95" y2="9.00" stroke-width="1.5"/>
<line x1="479.46" y1="226.20" x2="479.46" y2="220.70" stroke-width="1.5"/>
<line x1="479.46" y1="3.50" x2="479.46" y2="9.00" stroke-width="1.5"/>
<line x1="545.97" y1="226.20" x2="545.97" y2="220.70" stroke-width="1.5"/>
<line x1="545.97" y1="3.50" x2="545.97" y2="9.00" stroke-width="1.5"/>
<line x1="50.60" y1="226.20" x2="56.10" y2="226.20" stroke-width="1.5"/>
<line x1="595.70" y1="226.20" x2="590.20" y2="226.20" stroke-width="1.5"/>
<line x1="50.60" y1="165.40" x2="56.10" y2="165.40" stroke-width="1.5"/>
<line x1="595.70" y1="165.40" x2="590.20" y2="165.40" stroke-width="1.5"/>
<line x1="50.60" y1="104.60" x2="56.10" y2="104.60" stroke-width="1.5"/>
<line x1="595.70" y1="104.60" x2="590.20" y2="104.60" stroke-width="1.5"/>
<line x1="50.60" y1="43.80" x2="56.10" y2="43.80" stroke-width="1.5"/>
<line x1="595.70" y1="43.80" x2="590.20" y2="43.80" stroke-width="1.5"/>
<rect x="50.6" y="226.2" width="545.1" height="222.6" stroke-width="1.6"/>
<line x1="80.40" y1="448.80" x2="80.40" y2="443.30" stroke-width="1.5"/>
<line x1="80.40" y1="226.20" x2="80.40" y2="231.70" stroke-width="1.5"/>
<line x1="146.91" y1="448.80" x2="146.91" y2="443.30" stroke-width="1.5"/>
<line x1="146.91" y1="226.20" x2="146.91" y2="231.70" stroke-width="1.5"/>
<line x1="213.42" y1="448.80" x2="213.42" y2="443.30" stroke-width="1.5"/>
<line x1="213.42" y1="226.20" x2="213.42" y2="231.70" stroke-width="1.5"/>
<line x1="279.93" y1="448.80" x2="279.93" y2="443.30" stroke-width="1.5"/>
<line x1="279.93" y1="226.20" x2="279.93" y2="231.70" stroke-width="1.5"/>
<line x1="346.44" y1="448.80" x2="346.44" y2="443.30" stroke-width="1.5"/>
<line x1="346.44" y1="226.20" x2="346.44" y2="231.70" stroke-width="1.5"/>
<line x1="412.95" y1="448.80" x2="412.95" y2="443.30" stroke-width="1.5"/>
<line x1="412.95" y1="226.20" x2="412.95" y2="231.70" stroke-width="1.5"/>
<line x1="479.46" y1="448.80" x2="479.46" y2="443.30" stroke-width="1.5"/>
<line x1="479.46" y1="226.20" x2="479.46" y2="231.70" stroke-width="1.5"/>
<line x1="545.97" y1="448.80" x2="545.97" y2="443.30" stroke-width="1.5"/>
<line x1="545.97" y1="226.20" x2="545.97" y2="231.70" stroke-width="1.5"/>
<line x1="50.60" y1="448.80" x2="56.10" y2="448.80" stroke-width="1.5"/>
<line x1="595.70" y1="448.80" x2="590.20" y2="448.80" stroke-width="1.5"/>
<line x1="50.60" y1="388.00" x2="56.10" y2="388.00" stroke-width="1.5"/>
<line x1="595.70" y1="388.00" x2="590.20" y2="388.00" stroke-width="1.5"/>
<line x1="50.60" y1="327.20" x2="56.10" y2="327.20" stroke-width="1.5"/>
<line x1="595.70" y1="327.20" x2="590.20" y2="327.20" stroke-width="1.5"/>
<line x1="50.60" y1="266.40" x2="56.10" y2="266.40" stroke-width="1.5"/>
<line x1="595.70" y1="266.40" x2="590.20" y2="266.40" stroke-width="1.5"/>
</g>
<g font-family="Liberation Sans, sans-serif" fill="#000" stroke="#000" stroke-width="0.25"><text x="48.60" y="232.50" text-anchor="end" font-size="15.6" textLength="9.4" lengthAdjust="spacingAndGlyphs">0</text><text x="48.60" y="171.70" text-anchor="end" font-size="15.6" textLength="18.0" lengthAdjust="spacingAndGlyphs">50</text><text x="48.90" y="110.90" text-anchor="end" font-size="15.6" textLength="28.0" lengthAdjust="spacingAndGlyphs">100</text><text x="48.90" y="50.10" text-anchor="end" font-size="15.6" textLength="28.0" lengthAdjust="spacingAndGlyphs">150</text><text x="48.60" y="455.10" text-anchor="end" font-size="15.6" textLength="9.4" lengthAdjust="spacingAndGlyphs">0</text><text x="48.60" y="394.30" text-anchor="end" font-size="15.6" textLength="18.0" lengthAdjust="spacingAndGlyphs">50</text><text x="48.90" y="333.50" text-anchor="end" font-size="15.6" textLength="28.0" lengthAdjust="spacingAndGlyphs">100</text><text x="48.90" y="272.70" text-anchor="end" font-size="15.6" textLength="28.0" lengthAdjust="spacingAndGlyphs">150</text><text x="80.60" y="463.2" text-anchor="middle" font-size="15.6" textLength="37.0" lengthAdjust="spacingAndGlyphs">1200</text><text x="147.11" y="463.2" text-anchor="middle" font-size="15.6" textLength="37.0" lengthAdjust="spacingAndGlyphs">1300</text><text x="213.62" y="463.2" text-anchor="middle" font-size="15.6" textLength="37.0" lengthAdjust="spacingAndGlyphs">1400</text><text x="280.13" y="463.2" text-anchor="middle" font-size="15.6" textLength="37.0" lengthAdjust="spacingAndGlyphs">1500</text><text x="346.64" y="463.2" text-anchor="middle" font-size="15.6" textLength="37.0" lengthAdjust="spacingAndGlyphs">1600</text><text x="413.15" y="463.2" text-anchor="middle" font-size="15.6" textLength="37.0" lengthAdjust="spacingAndGlyphs">1700</text><text x="479.66" y="463.2" text-anchor="middle" font-size="15.6" textLength="37.0" lengthAdjust="spacingAndGlyphs">1800</text><text x="546.17" y="463.2" text-anchor="middle" font-size="15.6" textLength="37.0" lengthAdjust="spacingAndGlyphs">1900</text></g>
<text font-family="Liberation Sans, sans-serif" x="243.8" y="476.2" font-size="15.6" textLength="159.6" lengthAdjust="spacingAndGlyphs" fill="#000" stroke="#000" stroke-width="0.25">Rest Wavelength (Å)</text>
<text font-family="Liberation Sans, sans-serif" transform="translate(13.9,340) rotate(-90)" font-size="15.6" fill="#000" stroke="#000" stroke-width="0.25" textLength="234" lengthAdjust="spacingAndGlyphs">Flux (10<tspan dy="-5.5" font-size="11">−17</tspan><tspan dy="5.5"> erg s</tspan><tspan dy="-5.5" font-size="11">−1</tspan><tspan dy="5.5"> cm</tspan><tspan dy="-5.5" font-size="11">−2</tspan><tspan dy="5.5"> Å</tspan><tspan dy="-5.5" font-size="11">−1</tspan><tspan dy="5.5">)</tspan></text>
<rect x="149.4" y="7.3" width="442.3" height="23.5" rx="3" fill="#fffaf6" fill-opacity="0.85"/><line x1="152.9" y1="18.0" x2="168.9" y2="18.0" stroke="#ff4500" stroke-width="2.8"/><text font-family="Liberation Sans, sans-serif" x="175.0" y="23.2" font-size="15.3" textLength="76.0" lengthAdjust="spacingAndGlyphs" fill="#000" stroke="#000" stroke-width="0.25">Composite</text><line x1="264.8" y1="18.0" x2="279.1" y2="18.0" stroke="#f5a623" stroke-width="1.6"/><text font-family="Liberation Sans, sans-serif" x="285.9" y="23.2" font-size="15.3" textLength="130.3" lengthAdjust="spacingAndGlyphs" fill="#000" stroke="#000" stroke-width="0.25">Broken Power-Law</text><line x1="430.3" y1="18.0" x2="444.6" y2="18.0" stroke="#ffc0cb" stroke-width="1.6"/><text font-family="Liberation Sans, sans-serif" x="450.9" y="23.2" font-size="15.3" textLength="136.4" lengthAdjust="spacingAndGlyphs" fill="#000" stroke="#000" stroke-width="0.25">Pseudo-Continuum</text>
<rect x="204.3" y="230.1" width="387.4" height="23.5" rx="3" fill="#fffaf6" fill-opacity="0.85"/><line x1="207.8" y1="240.8" x2="223.3" y2="240.8" stroke="#ff4500" stroke-width="2.8"/><text font-family="Liberation Sans, sans-serif" x="229.4" y="246.0" font-size="15.3" textLength="76.0" lengthAdjust="spacingAndGlyphs" fill="#000" stroke="#000" stroke-width="0.25">Composite</text><line x1="319.6" y1="240.8" x2="333.5" y2="240.8" stroke="#f5a623" stroke-width="1.6"/><text font-family="Liberation Sans, sans-serif" x="340.4" y="246.0" font-size="15.3" textLength="75.3" lengthAdjust="spacingAndGlyphs" fill="#000" stroke="#000" stroke-width="0.25">Power-Law</text><line x1="430.3" y1="240.8" x2="444.6" y2="240.8" stroke="#ffc0cb" stroke-width="1.6"/><text font-family="Liberation Sans, sans-serif" x="450.9" y="246.0" font-size="15.3" textLength="136.4" lengthAdjust="spacingAndGlyphs" fill="#000" stroke="#000" stroke-width="0.25">Pseudo-Continuum</text>
</svg></body></html>
